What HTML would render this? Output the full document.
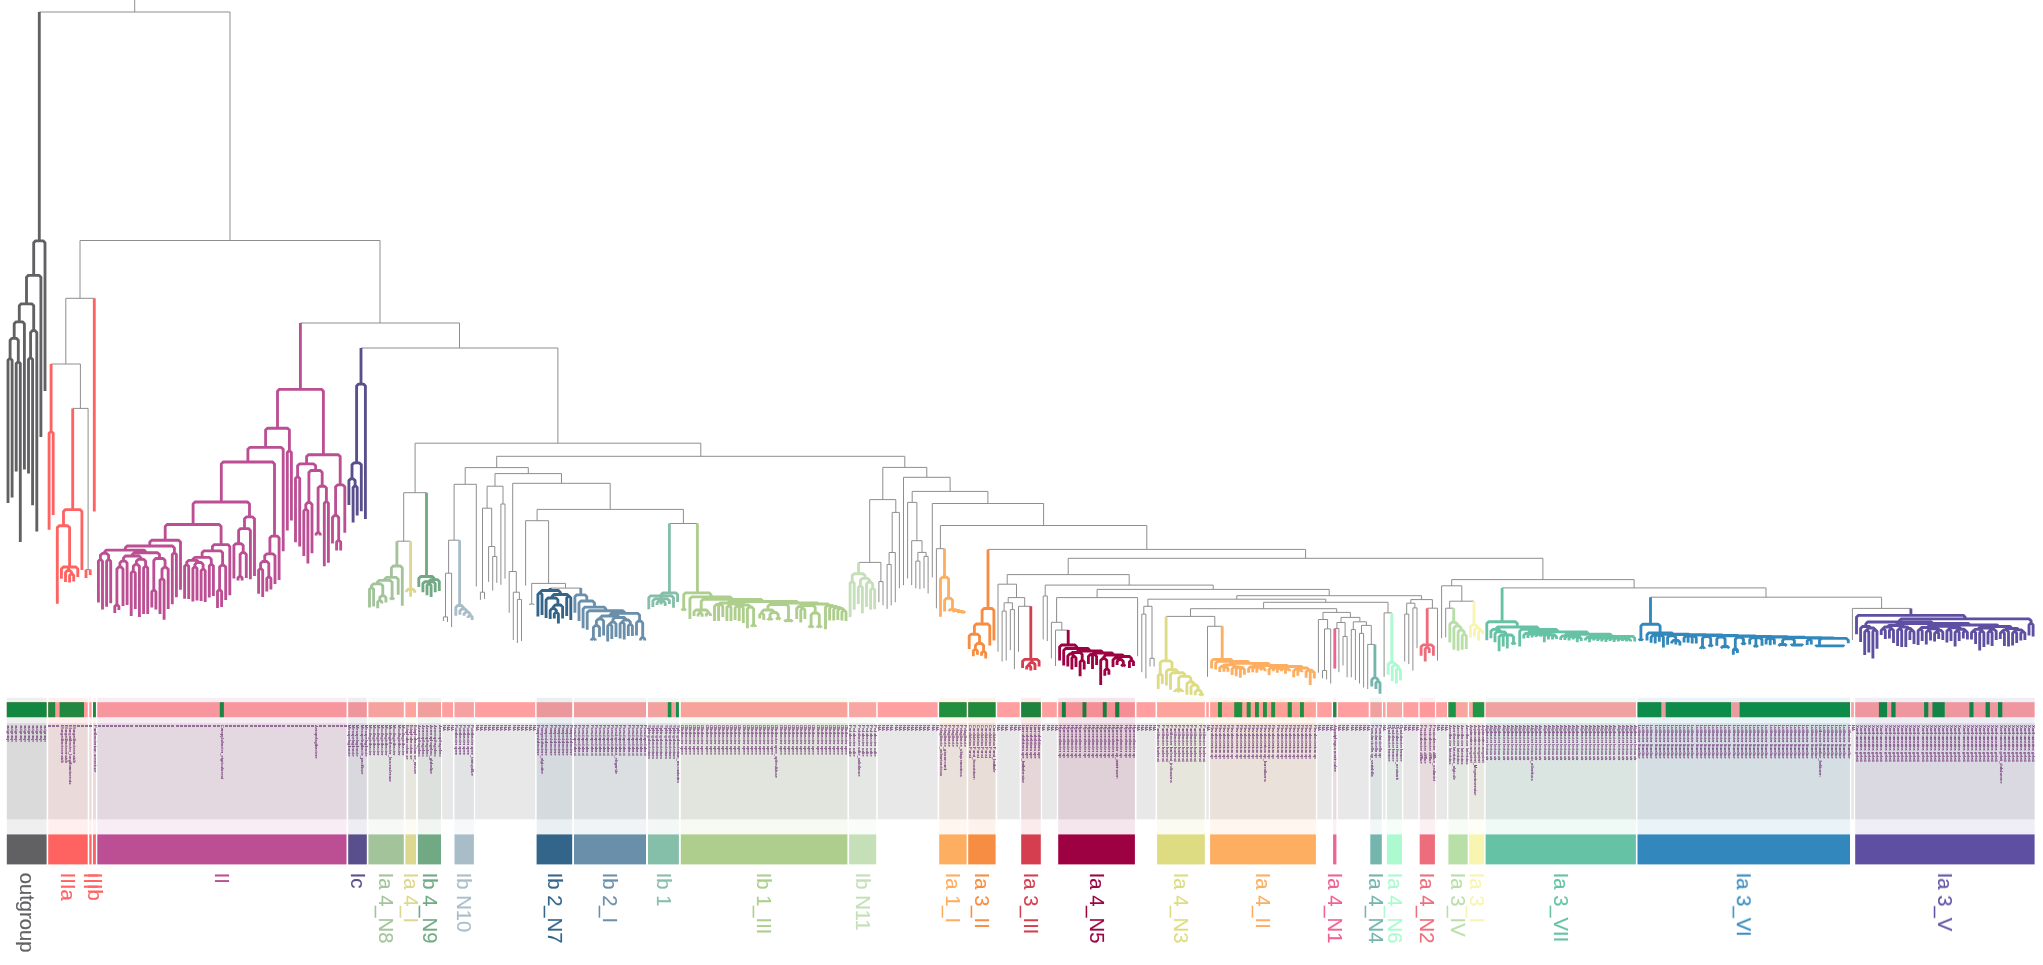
<!DOCTYPE html>
<html><head><meta charset="utf-8"><title>tree</title><style>html,body{margin:0;padding:0;background:#fff}body{width:2043px;height:965px;position:relative;overflow:hidden}</style></head><body>
<svg width="2043" height="965" viewBox="0 0 2043 965" style="position:absolute;left:0;top:0">
<rect x="6.8" y="702.2" width="39.8" height="15" fill="#ff9f9f"/>
<rect x="6.8" y="723.2" width="39.8" height="96.1" fill="#e8e8e8"/>
<rect x="48.2" y="702.2" width="39.5" height="15" fill="#ff9f9f"/>
<rect x="48.2" y="723.2" width="39.5" height="96.1" fill="#e8e8e8"/>
<rect x="89.3" y="702.2" width="2.3" height="15" fill="#ff9f9f"/>
<rect x="89.3" y="723.2" width="2.3" height="96.1" fill="#e8e8e8"/>
<rect x="93" y="702.2" width="2.9" height="15" fill="#ff9f9f"/>
<rect x="93" y="723.2" width="2.9" height="96.1" fill="#e8e8e8"/>
<rect x="97.3" y="702.2" width="249.2" height="15" fill="#ff9f9f"/>
<rect x="97.3" y="723.2" width="249.2" height="96.1" fill="#e8e8e8"/>
<rect x="348.2" y="702.2" width="18.6" height="15" fill="#ff9f9f"/>
<rect x="348.2" y="723.2" width="18.6" height="96.1" fill="#e8e8e8"/>
<rect x="368.4" y="702.2" width="35.4" height="15" fill="#ff9f9f"/>
<rect x="368.4" y="723.2" width="35.4" height="96.1" fill="#e8e8e8"/>
<rect x="405.4" y="702.2" width="10.6" height="15" fill="#ff9f9f"/>
<rect x="405.4" y="723.2" width="10.6" height="96.1" fill="#e8e8e8"/>
<rect x="417.9" y="702.2" width="23.1" height="15" fill="#ff9f9f"/>
<rect x="417.9" y="723.2" width="23.1" height="96.1" fill="#e8e8e8"/>
<rect x="442.2" y="702.2" width="10.8" height="15" fill="#ff9f9f"/>
<rect x="442.2" y="723.2" width="10.8" height="96.1" fill="#e8e8e8"/>
<rect x="454.5" y="702.2" width="19.4" height="15" fill="#ff9f9f"/>
<rect x="454.5" y="723.2" width="19.4" height="96.1" fill="#e8e8e8"/>
<rect x="475.1" y="702.2" width="60.1" height="15" fill="#ff9f9f"/>
<rect x="475.1" y="723.2" width="60.1" height="96.1" fill="#e8e8e8"/>
<rect x="536.6" y="702.2" width="35.6" height="15" fill="#ff9f9f"/>
<rect x="536.6" y="723.2" width="35.6" height="96.1" fill="#e8e8e8"/>
<rect x="574" y="702.2" width="72" height="15" fill="#ff9f9f"/>
<rect x="574" y="723.2" width="72" height="96.1" fill="#e8e8e8"/>
<rect x="648" y="702.2" width="30.9" height="15" fill="#ff9f9f"/>
<rect x="648" y="723.2" width="30.9" height="96.1" fill="#e8e8e8"/>
<rect x="680.8" y="702.2" width="166.6" height="15" fill="#ff9f9f"/>
<rect x="680.8" y="723.2" width="166.6" height="96.1" fill="#e8e8e8"/>
<rect x="849.1" y="702.2" width="27.1" height="15" fill="#ff9f9f"/>
<rect x="849.1" y="723.2" width="27.1" height="96.1" fill="#e8e8e8"/>
<rect x="877.7" y="702.2" width="59.9" height="15" fill="#ff9f9f"/>
<rect x="877.7" y="723.2" width="59.9" height="96.1" fill="#e8e8e8"/>
<rect x="939.2" y="702.2" width="27.4" height="15" fill="#ff9f9f"/>
<rect x="939.2" y="723.2" width="27.4" height="96.1" fill="#e8e8e8"/>
<rect x="968.2" y="702.2" width="27.4" height="15" fill="#ff9f9f"/>
<rect x="968.2" y="723.2" width="27.4" height="96.1" fill="#e8e8e8"/>
<rect x="997.2" y="702.2" width="22.5" height="15" fill="#ff9f9f"/>
<rect x="997.2" y="723.2" width="22.5" height="96.1" fill="#e8e8e8"/>
<rect x="1021.2" y="702.2" width="19.6" height="15" fill="#ff9f9f"/>
<rect x="1021.2" y="723.2" width="19.6" height="96.1" fill="#e8e8e8"/>
<rect x="1042.1" y="702.2" width="14.7" height="15" fill="#ff9f9f"/>
<rect x="1042.1" y="723.2" width="14.7" height="96.1" fill="#e8e8e8"/>
<rect x="1058.2" y="702.2" width="76.7" height="15" fill="#ff9f9f"/>
<rect x="1058.2" y="723.2" width="76.7" height="96.1" fill="#e8e8e8"/>
<rect x="1136.5" y="702.2" width="19" height="15" fill="#ff9f9f"/>
<rect x="1136.5" y="723.2" width="19" height="96.1" fill="#e8e8e8"/>
<rect x="1157.1" y="702.2" width="47.7" height="15" fill="#ff9f9f"/>
<rect x="1157.1" y="723.2" width="47.7" height="96.1" fill="#e8e8e8"/>
<rect x="1206.2" y="702.2" width="2.6" height="15" fill="#ff9f9f"/>
<rect x="1206.2" y="723.2" width="2.6" height="96.1" fill="#e8e8e8"/>
<rect x="1210.1" y="702.2" width="105.8" height="15" fill="#ff9f9f"/>
<rect x="1210.1" y="723.2" width="105.8" height="96.1" fill="#e8e8e8"/>
<rect x="1317.2" y="702.2" width="14.5" height="15" fill="#ff9f9f"/>
<rect x="1317.2" y="723.2" width="14.5" height="96.1" fill="#e8e8e8"/>
<rect x="1333.1" y="702.2" width="3.3" height="15" fill="#ff9f9f"/>
<rect x="1333.1" y="723.2" width="3.3" height="96.1" fill="#e8e8e8"/>
<rect x="1337.8" y="702.2" width="30.9" height="15" fill="#ff9f9f"/>
<rect x="1337.8" y="723.2" width="30.9" height="96.1" fill="#e8e8e8"/>
<rect x="1370.3" y="702.2" width="11.5" height="15" fill="#ff9f9f"/>
<rect x="1370.3" y="723.2" width="11.5" height="96.1" fill="#e8e8e8"/>
<rect x="1383" y="702.2" width="2.5" height="15" fill="#ff9f9f"/>
<rect x="1383" y="723.2" width="2.5" height="96.1" fill="#e8e8e8"/>
<rect x="1386.9" y="702.2" width="15.1" height="15" fill="#ff9f9f"/>
<rect x="1386.9" y="723.2" width="15.1" height="96.1" fill="#e8e8e8"/>
<rect x="1403.3" y="702.2" width="15" height="15" fill="#ff9f9f"/>
<rect x="1403.3" y="723.2" width="15" height="96.1" fill="#e8e8e8"/>
<rect x="1419.7" y="702.2" width="15.2" height="15" fill="#ff9f9f"/>
<rect x="1419.7" y="723.2" width="15.2" height="96.1" fill="#e8e8e8"/>
<rect x="1436.2" y="702.2" width="10.8" height="15" fill="#ff9f9f"/>
<rect x="1436.2" y="723.2" width="10.8" height="96.1" fill="#e8e8e8"/>
<rect x="1448.4" y="702.2" width="19.3" height="15" fill="#ff9f9f"/>
<rect x="1448.4" y="723.2" width="19.3" height="96.1" fill="#e8e8e8"/>
<rect x="1469.1" y="702.2" width="15.1" height="15" fill="#ff9f9f"/>
<rect x="1469.1" y="723.2" width="15.1" height="96.1" fill="#e8e8e8"/>
<rect x="1485.6" y="702.2" width="150.3" height="15" fill="#ff9f9f"/>
<rect x="1485.6" y="723.2" width="150.3" height="96.1" fill="#e8e8e8"/>
<rect x="1637.5" y="702.2" width="212.5" height="15" fill="#ff9f9f"/>
<rect x="1637.5" y="723.2" width="212.5" height="96.1" fill="#e8e8e8"/>
<rect x="1851.1" y="702.2" width="2.8" height="15" fill="#ff9f9f"/>
<rect x="1851.1" y="723.2" width="2.8" height="96.1" fill="#e8e8e8"/>
<rect x="1855.2" y="702.2" width="179.4" height="15" fill="#ff9f9f"/>
<rect x="1855.2" y="723.2" width="179.4" height="96.1" fill="#e8e8e8"/>
<rect x="6.8" y="702.2" width="39.8" height="15" fill="#0a8c3c"/>
<rect x="48.2" y="702.2" width="7" height="15" fill="#0a8c3c"/>
<rect x="59.6" y="702.2" width="24.4" height="15" fill="#0a8c3c"/>
<rect x="93" y="702.2" width="2.9" height="15" fill="#0a8c3c"/>
<rect x="219.8" y="702.2" width="4.1" height="15" fill="#0a8c3c"/>
<rect x="667.8" y="702.2" width="3.6" height="15" fill="#0a8c3c"/>
<rect x="676" y="702.2" width="2.9" height="15" fill="#0a8c3c"/>
<rect x="939.2" y="702.2" width="27.4" height="15" fill="#0a8c3c"/>
<rect x="968.2" y="702.2" width="27.4" height="15" fill="#0a8c3c"/>
<rect x="1021.2" y="702.2" width="19.6" height="15" fill="#0a8c3c"/>
<rect x="1061.9" y="702.2" width="3.9" height="15" fill="#0a8c3c"/>
<rect x="1082.5" y="702.2" width="3.9" height="15" fill="#0a8c3c"/>
<rect x="1102.8" y="702.2" width="3.9" height="15" fill="#0a8c3c"/>
<rect x="1115.2" y="702.2" width="4.1" height="15" fill="#0a8c3c"/>
<rect x="1218" y="702.2" width="3.9" height="15" fill="#0a8c3c"/>
<rect x="1234.2" y="702.2" width="8" height="15" fill="#0a8c3c"/>
<rect x="1246.7" y="702.2" width="4" height="15" fill="#0a8c3c"/>
<rect x="1255" y="702.2" width="3.9" height="15" fill="#0a8c3c"/>
<rect x="1263" y="702.2" width="3.9" height="15" fill="#0a8c3c"/>
<rect x="1271.2" y="702.2" width="3.9" height="15" fill="#0a8c3c"/>
<rect x="1287.7" y="702.2" width="4.1" height="15" fill="#0a8c3c"/>
<rect x="1300" y="702.2" width="3.9" height="15" fill="#0a8c3c"/>
<rect x="1333.1" y="702.2" width="3.3" height="15" fill="#0a8c3c"/>
<rect x="1448.4" y="702.2" width="7.4" height="15" fill="#0a8c3c"/>
<rect x="1472.8" y="702.2" width="11.4" height="15" fill="#0a8c3c"/>
<rect x="1637.5" y="702.2" width="23.8" height="15" fill="#0a8c3c"/>
<rect x="1665.7" y="702.2" width="65.3" height="15" fill="#0a8c3c"/>
<rect x="1739.6" y="702.2" width="110.4" height="15" fill="#0a8c3c"/>
<rect x="1878.9" y="702.2" width="8.2" height="15" fill="#0a8c3c"/>
<rect x="1891.3" y="702.2" width="4.3" height="15" fill="#0a8c3c"/>
<rect x="1924.1" y="702.2" width="4.2" height="15" fill="#0a8c3c"/>
<rect x="1932.4" y="702.2" width="12.3" height="15" fill="#0a8c3c"/>
<rect x="1969.4" y="702.2" width="4.1" height="15" fill="#0a8c3c"/>
<rect x="1985.6" y="702.2" width="4.3" height="15" fill="#0a8c3c"/>
<rect x="1998" y="702.2" width="4.3" height="15" fill="#0a8c3c"/>
<rect x="6.8" y="697.8" width="39.8" height="136.6" fill="#616063" fill-opacity="0.1"/>
<rect x="6.8" y="834.4" width="39.8" height="30" fill="#616063"/>
<rect x="48.2" y="697.8" width="39.5" height="136.6" fill="#ff6361" fill-opacity="0.1"/>
<rect x="48.2" y="834.4" width="39.5" height="30" fill="#ff6361"/>
<rect x="89.3" y="697.8" width="2.3" height="136.6" fill="#ff6361" fill-opacity="0.1"/>
<rect x="89.3" y="834.4" width="2.3" height="30" fill="#ff6361"/>
<rect x="93" y="697.8" width="2.9" height="136.6" fill="#ff6361" fill-opacity="0.1"/>
<rect x="93" y="834.4" width="2.9" height="30" fill="#ff6361"/>
<rect x="97.3" y="697.8" width="249.2" height="136.6" fill="#bc4f94" fill-opacity="0.1"/>
<rect x="97.3" y="834.4" width="249.2" height="30" fill="#bc4f94"/>
<rect x="348.2" y="697.8" width="18.6" height="136.6" fill="#584f8c" fill-opacity="0.1"/>
<rect x="348.2" y="834.4" width="18.6" height="30" fill="#584f8c"/>
<rect x="368.4" y="697.8" width="35.4" height="136.6" fill="#a3c49b" fill-opacity="0.1"/>
<rect x="368.4" y="834.4" width="35.4" height="30" fill="#a3c49b"/>
<rect x="405.4" y="697.8" width="10.6" height="136.6" fill="#ddd890" fill-opacity="0.1"/>
<rect x="405.4" y="834.4" width="10.6" height="30" fill="#ddd890"/>
<rect x="417.9" y="697.8" width="23.1" height="136.6" fill="#71a985" fill-opacity="0.1"/>
<rect x="417.9" y="834.4" width="23.1" height="30" fill="#71a985"/>
<rect x="454.5" y="697.8" width="19.4" height="136.6" fill="#a9bdc9" fill-opacity="0.1"/>
<rect x="454.5" y="834.4" width="19.4" height="30" fill="#a9bdc9"/>
<rect x="536.6" y="697.8" width="35.6" height="136.6" fill="#33658a" fill-opacity="0.1"/>
<rect x="536.6" y="834.4" width="35.6" height="30" fill="#33658a"/>
<rect x="574" y="697.8" width="72" height="136.6" fill="#6a8fab" fill-opacity="0.1"/>
<rect x="574" y="834.4" width="72" height="30" fill="#6a8fab"/>
<rect x="648" y="697.8" width="30.9" height="136.6" fill="#85bfa9" fill-opacity="0.1"/>
<rect x="648" y="834.4" width="30.9" height="30" fill="#85bfa9"/>
<rect x="680.8" y="697.8" width="166.6" height="136.6" fill="#adce8c" fill-opacity="0.1"/>
<rect x="680.8" y="834.4" width="166.6" height="30" fill="#adce8c"/>
<rect x="849.1" y="697.8" width="27.1" height="136.6" fill="#c5e0b8" fill-opacity="0.1"/>
<rect x="849.1" y="834.4" width="27.1" height="30" fill="#c5e0b8"/>
<rect x="939.2" y="697.8" width="27.4" height="136.6" fill="#fdae61" fill-opacity="0.1"/>
<rect x="939.2" y="834.4" width="27.4" height="30" fill="#fdae61"/>
<rect x="968.2" y="697.8" width="27.4" height="136.6" fill="#f68d42" fill-opacity="0.1"/>
<rect x="968.2" y="834.4" width="27.4" height="30" fill="#f68d42"/>
<rect x="1021.2" y="697.8" width="19.6" height="136.6" fill="#d53e4f" fill-opacity="0.1"/>
<rect x="1021.2" y="834.4" width="19.6" height="30" fill="#d53e4f"/>
<rect x="1058.2" y="697.8" width="76.7" height="136.6" fill="#9e0142" fill-opacity="0.1"/>
<rect x="1058.2" y="834.4" width="76.7" height="30" fill="#9e0142"/>
<rect x="1157.1" y="697.8" width="47.7" height="136.6" fill="#dedc82" fill-opacity="0.1"/>
<rect x="1157.1" y="834.4" width="47.7" height="30" fill="#dedc82"/>
<rect x="1210.1" y="697.8" width="105.8" height="136.6" fill="#fdae61" fill-opacity="0.1"/>
<rect x="1210.1" y="834.4" width="105.8" height="30" fill="#fdae61"/>
<rect x="1333.1" y="697.8" width="3.3" height="136.6" fill="#f0628f" fill-opacity="0.1"/>
<rect x="1333.1" y="834.4" width="3.3" height="30" fill="#f0628f"/>
<rect x="1370.3" y="697.8" width="11.5" height="136.6" fill="#74b5ae" fill-opacity="0.1"/>
<rect x="1370.3" y="834.4" width="11.5" height="30" fill="#74b5ae"/>
<rect x="1386.9" y="697.8" width="15.1" height="136.6" fill="#abfad0" fill-opacity="0.1"/>
<rect x="1386.9" y="834.4" width="15.1" height="30" fill="#abfad0"/>
<rect x="1419.7" y="697.8" width="15.2" height="136.6" fill="#ee6d7d" fill-opacity="0.1"/>
<rect x="1419.7" y="834.4" width="15.2" height="30" fill="#ee6d7d"/>
<rect x="1448.4" y="697.8" width="19.3" height="136.6" fill="#b8dfa8" fill-opacity="0.1"/>
<rect x="1448.4" y="834.4" width="19.3" height="30" fill="#b8dfa8"/>
<rect x="1469.1" y="697.8" width="15.1" height="136.6" fill="#f7f5b0" fill-opacity="0.1"/>
<rect x="1469.1" y="834.4" width="15.1" height="30" fill="#f7f5b0"/>
<rect x="1485.6" y="697.8" width="150.3" height="136.6" fill="#66c2a5" fill-opacity="0.1"/>
<rect x="1485.6" y="834.4" width="150.3" height="30" fill="#66c2a5"/>
<rect x="1637.5" y="697.8" width="212.5" height="136.6" fill="#3288bd" fill-opacity="0.1"/>
<rect x="1637.5" y="834.4" width="212.5" height="30" fill="#3288bd"/>
<rect x="1855.2" y="697.8" width="179.4" height="136.6" fill="#5e4fa2" fill-opacity="0.1"/>
<rect x="1855.2" y="834.4" width="179.4" height="30" fill="#5e4fa2"/>
<g fill="none" stroke="#8e8e8e" stroke-width="1.0">
<path d="M86 569.6H90.2M72.7 408.4H88.1M88.1 408.4V569.6M51.1 364H80.4M80.4 364V408.4M65.8 298.3H94.3M65.8 298.3V364M396.9 541.2H410.6M403.7 492.7H426.5M403.7 492.7V541.2M443.4 616.9H447.5M443.4 616.9V621M447.5 616.9V622M445.5 573.2H451.6M445.5 573.2V616.9M451.6 573.2V627.1M448.6 540.2H459.6M448.6 540.2V573.2M454.1 484.3H476.3M454.1 484.3V540.2M476.3 484.3V586.5M480.4 592.2H484.5M480.4 592.2V599.9M484.5 592.2V598.9M492.7 556.5H496.8M492.7 556.5V590.6M496.8 556.5V582.9M488.6 546.5H494.8M488.6 546.5V581.9M494.8 546.5V556.5M482.5 508.2H491.7M482.5 508.2V592.2M491.7 508.2V546.5M500.9 504H505M500.9 504V584.8M505 504V578.6M487.1 486.2H503M487.1 486.2V508.2M503 486.2V504M517.4 599.4H521.5M517.4 599.4V643M521.5 599.4V641M513.3 592.2H519.4M513.3 592.2V640M519.4 592.2V599.4M509.2 571.5H516.3M509.2 571.5V612.7M516.3 571.5V592.2M529.7 604H533.8M529.7 604V605M533.8 604V605M550.2 588.1H580.8M531.7 583.4H565.5M531.7 583.4V604M565.5 583.4V588.1M525.6 520.7H548.6M525.6 520.7V585.6M548.6 520.7V583.4M669.4 523.5H697.4M537.1 509.4H683.4M537.1 509.4V520.7M683.4 509.4V523.5M512.7 483.3H610.2M512.7 483.3V571.5M610.2 483.3V509.4M495 473.6H561.5M495 473.6V486.2M561.5 473.6V483.3M465.2 467.6H528.3M465.2 467.6V484.3M528.3 467.6V473.6M878.9 581.6H883M878.9 581.6V602.2M883 581.6V605.3M858.6 562.4H880.9M880.9 562.4V581.6M887.1 564.5H891.2M887.1 564.5V608.9M891.2 564.5V605.3M889.1 552.5H895.3M889.1 552.5V564.5M895.3 552.5V602.2M892.2 512.4H899.4M892.2 512.4V552.5M899.4 512.4V588.3M869.7 499.6H895.8M869.7 499.6V562.4M895.8 499.6V512.4M915.8 561.1H919.9M915.8 561.1V588.3M919.9 561.1V589.1M924 556.4H928.1M924 556.4V588.3M928.1 556.4V593.4M917.9 552.4H926.1M917.9 552.4V561.1M926.1 552.4V556.4M911.7 540.7H922M911.7 540.7V585.2M922 540.7V552.4M907.6 502.4H916.9M907.6 502.4V578.5M916.9 502.4V540.7M936.4 548.7H944.5M936.4 548.7V608.4M1002.1 611.1H1006.2M1002.1 611.1V661.5M1006.2 611.1V660.5M1010.3 609.6H1014.4M1010.3 609.6V650.2M1014.4 609.6V669M1004.1 602.8H1012.4M1004.1 602.8V611.1M1012.4 602.8V609.6M1018.5 606.3H1030.8M1018.5 606.3V651.7M1008.2 597.6H1024.7M1008.2 597.6V602.8M1024.7 597.6V606.3M998 584.2H1016.5M998 584.2V651.7M1016.5 584.2V597.6M1043.2 596H1047.3M1043.2 596V639.4M1047.3 596V641M1055.5 630.1H1068.2M1055.5 630.1V666M1051.4 622.3H1061.8M1051.4 622.3V658.4M1061.8 622.3V630.1M1056.6 597.6H1137.6M1056.6 597.6V622.3M1137.6 597.6V656.3M1141.8 614.1H1145.9M1141.8 614.1V672.2M1145.9 614.1V678.4M1150 658.3H1154.1M1150 658.3V666.5M1154.1 658.3V666.5M1143.8 606.3H1152M1143.8 606.3V614.1M1152 606.3V658.3M1207.5 626.3H1222.2M1207.5 626.3V676.8M1166.1 616.4H1214.8M1214.8 616.4V626.3M1322.5 670.5H1326.6M1322.5 670.5V678.4M1326.6 670.5V679.4M1324.5 628.9H1330.7M1324.5 628.9V670.5M1330.7 628.9V683.5M1318.4 619.5H1327.6M1318.4 619.5V672.7M1327.6 619.5V628.9M1334.8 628.5H1338.9M1338.9 628.5V672.2M1343 636.5H1347.1M1343 636.5V665.5M1347.1 636.5V677.3M1336.9 622.5H1345.1M1336.9 622.5V628.5M1345.1 622.5V636.5M1351.3 629.5H1355.4M1351.3 629.5V677.3M1355.4 629.5V679.9M1359.5 633.4H1363.6M1359.5 633.4V683.5M1363.6 633.4V687.6M1367.7 644.4H1374.9M1367.7 644.4V689M1361.5 625.4H1371.3M1361.5 625.4V633.4M1371.3 625.4V644.4M1353.3 621.8H1366.4M1353.3 621.8V629.5M1366.4 621.8V625.4M1341 617.4H1359.9M1341 617.4V622.5M1359.9 617.4V621.8M1323 612.4H1350.4M1323 612.4V619.5M1350.4 612.4V617.4M1190.5 608.7H1336.7M1190.5 608.7V616.4M1336.7 608.7V612.4M1384.1 612.9H1391.8M1384.1 612.9V676.8M1263.6 602.3H1388M1263.6 602.3V608.7M1388 602.3V612.9M1147.9 599.2H1325.8M1147.9 599.2V606.3M1325.8 599.2V602.3M1404.7 614.1H1408.8M1404.7 614.1V661.5M1408.8 614.1V664M1412.9 607.9H1417M1412.9 607.9V670.6M1417 607.9V648.2M1406.7 603.2H1414.9M1406.7 603.2V614.1M1414.9 603.2V607.9M1427.2 608.2H1437.5M1437.5 608.2V660.7M1410.8 599.6H1432.4M1410.8 599.6V603.2M1432.4 599.6V608.2M1236.8 595.7H1421.6M1236.8 595.7V599.2M1421.6 595.7V599.6M1097.1 589.4H1329.2M1097.1 589.4V597.6M1329.2 589.4V595.7M1045.2 585.1H1213.2M1045.2 585.1V596M1213.2 585.1V589.4M1007.2 574.6H1129.2M1007.2 574.6V584.2M1129.2 574.6V585.1M1445.7 608.2H1453.7M1445.7 608.2V637.4M1449.7 601.2H1474M1449.7 601.2V608.2M1441.6 585.8H1461.8M1441.6 585.8V638.2M1461.8 585.8V601.2M1852.4 608.4H1910.9M1852.4 608.4V640M1650.5 597.2H1881.6M1881.6 597.2V608.4M1502.1 587.9H1766M1766 587.9V597.2M1451.7 579.6H1634.1M1451.7 579.6V585.8M1634.1 579.6V587.9M1068.2 558.3H1542.9M1068.2 558.3V574.6M1542.9 558.3V579.6M988 549.4H1305.6M1305.6 549.4V558.3M940.4 525.5H1146.8M940.4 525.5V548.7M1146.8 525.5V549.4M932.3 503.5H1043.6M932.3 503.5V577.5M1043.6 503.5V525.5M912.2 491.4H987.9M912.2 491.4V502.4M987.9 491.4V503.5M903.5 477.3H950.1M903.5 477.3V585.2M950.1 477.3V491.4M882.8 467.4H926.8M882.8 467.4V499.6M926.8 467.4V477.3M496.7 456.3H904.8M496.7 456.3V467.6M904.8 456.3V467.4M415.1 443.2H700.8M415.1 443.2V492.7M700.8 443.2V456.3M361 348H557.9M557.9 348V443.2M300.4 323H459.5M459.5 323V348M80 240.5H380M80 240.5V298.3M380 240.5V323M39.3 12H230M230 12V240.5M134.7 12V0"/>
</g>
<g fill="none" stroke-width="2.85" stroke-linejoin="round" stroke-linecap="butt">
<path stroke="#616063" d="M8 503V360.2L9.9 358.3H10.2L12.1 360.2V497.6M16.2 471.6V363.6L18.1 361.7H18.4L20.3 363.6V542M10.1 358.3V340.2L12 338.3H16.4L18.3 340.2V361.7M14.2 338.3V323.7L16.1 321.8H22.5L24.4 323.7V469.4M28.5 473.6V359.4L30.4 357.5H30.7L32.6 359.4V505.3M30.6 357.5V332.4L32.5 330.5H34.9L36.8 332.4V531.6M19.3 321.8V305.7L21.2 303.8H31.8L33.7 305.7V330.5M26.5 303.8V277.2L28.4 275.3H39L40.9 277.2V437M33.7 275.3V242.7L35.6 240.8H43.1L45 242.7V391M39.3 12V240.8"/>
<path stroke="#ff6361" d="M49.1 529.8V433.3L51 431.4H51.3L53.2 433.3V515M69.6 582.5V575.4L71.5 573.5H71.8L73.7 575.4V581.5M65.5 582V572.4L67.4 570.5H69.8L71.7 572.4V573.5M61.4 578.7V568.9L63.3 567H75.9L77.8 568.9V577M68.6 567V570.5M57.3 603.8V527.6L59.2 525.7H67.7L69.6 527.6V567M63.5 525.7V511.5L65.4 509.6H80L81.9 511.5V570M86 569.6V578M90.2 569.6V575M72.7 408.4V509.6M51.1 364V431.4M94.3 298.3V511.4"/>
<path stroke="#bc4f94" d="M98.4 602.6V561.2L100.3 559.3H100.6L102.5 561.2V609.4M106.6 606.7V561.2L108.5 559.3H108.8L110.7 561.2V603.3M100.4 559.3V555.3L102.3 553.4H106.7L108.6 555.3V559.3M114.8 613V606.5L116.7 604.6H117L118.9 606.5V610M116.9 604.6V568.9L118.8 567H121.1L123 568.9V606M119.9 567V563L121.8 561.1H125.2L127.1 563V605M131.2 616V572.9L133.1 571H133.4L135.3 572.9V609M133.3 571V566.3L135.2 564.4H137.5L139.4 566.3V617M143.6 614V567.9L145.5 566H145.8L147.7 567.9V614M136.4 564.4V561.2L138.3 559.3H143.7L145.6 561.2V566M123.5 561.1V557.9L125.4 556H139.1L141 557.9V559.3M151.8 607.4V591.7L153.7 589.8H154L155.9 591.7V609.4M160 614V580.3L161.9 578.4H162.2L164.1 580.3V619.7M162 578.4V569.3L163.9 567.4H166.3L168.2 569.3V609M153.8 589.8V560.4L155.7 558.5H163.2L165.1 560.4V567.4M132.3 556V554.6L134.2 552.7H157.6L159.5 554.6V558.5M104.5 553.4V552L106.4 550.1H144L145.9 552V552.7M172.3 604.2V554.6L174.2 552.7H174.5L176.4 554.6V597.2M125.2 550.1V547.9L127.1 546H172.5L174.4 547.9V552.7M149.8 546V542.1L151.7 540.2H178.6L180.5 542.1V589.8M184.6 598.7V566.3L186.5 564.4H186.8L188.7 566.3V599M192.9 601.6V568.5L194.8 566.6H195.1L197 568.5V600.5M201.1 600.9V570.7L203 568.8H203.3L205.2 570.7V602M194.9 566.6V564.4L196.8 562.5H201.2L203.1 564.4V568.8M186.7 564.4V562.3L188.6 560.4H197.1L199 562.3V562.5M209.3 597.5V565.9L211.2 564H211.5L213.4 565.9V596M192.9 560.4V559.3L194.8 557.4H209.4L211.3 559.3V564M217.5 608V591.4L219.4 589.5H219.7L221.6 591.4V607M219.6 589.5V567.1L221.5 565.2H223.8L225.7 567.1V600.1M202.1 557.4V552.7L204 550.8H220.7L222.6 552.7V565.2M212.4 550.8V546.5L214.3 544.6H227.9L229.8 546.5V595.3M165.2 540.2V526.4L167.1 524.5H219.2L221.1 526.4V544.6M238 580.6V577.8L239.9 575.9H240.2L242.1 577.8V580.6M240.1 575.9V554.5L242 552.6H244.4L246.3 554.5V578M233.9 578.6V545.6L235.8 543.7H241.3L243.2 545.6V552.6M238.6 543.7V530.5L240.5 528.6H248.5L250.4 530.5V579.3M244.5 528.6V518.8L246.4 516.9H252.6L254.5 518.8V575.9M193.1 524.5V503.9L195 502H247.6L249.5 503.9V516.9M258.6 593.7V570.2L260.5 568.3H260.8L262.7 570.2V597M266.8 591.6V578.4L268.7 576.5H269L270.9 578.4V589.6M260.6 568.3V563.4L262.5 561.5H266.9L268.8 563.4V576.5M264.7 561.5V555.8L266.6 553.9H273.1L275 555.8V584M269.9 553.9V538L271.8 536.1H277.2L279.1 538V580M221.3 502V463.9L223.2 462H272.6L274.5 463.9V536.1M247.9 462V449.3L249.8 447.4H281.3L283.2 449.3V551.2M287.3 530.6V452.5L289.2 450.6H289.5L291.4 452.5V520.4M265.6 447.4V430.1L267.5 428.2H287.5L289.4 430.1V450.6M295.5 542.3V478.5L297.4 476.6H297.8L299.7 478.5V546.4M303.8 556V510.9L305.7 509H306L307.9 510.9V563.5M305.8 509V504.4L307.7 502.5H310.1L312 504.4V553.2M316.1 535.4V533.9L318 532H318.3L320.2 533.9V535.4M324.3 566.2V503.2L326.2 501.3H326.5L328.4 503.2V562.8M318.1 532V488.1L320 486.2H324.5L326.4 488.1V501.3M308.9 502.5V472.4L310.8 470.5H320.3L322.2 472.4V486.2M297.6 476.6V465.8L299.5 463.9H313.7L315.6 465.8V470.5M336.6 550.5V542.1L338.5 540.2H338.8L340.7 542.1V550.5M332.5 543.6V517.4L334.4 515.5H336.8L338.7 517.4V540.2M335.6 515.5V486.8L337.5 484.9H342.9L344.8 486.8V532.7M306.6 463.9V456.6L308.5 454.7H338.3L340.2 456.6V484.9M277.5 428.2V391.2L279.4 389.3H321.5L323.4 391.2V454.7M300.4 323V389.3"/>
<path stroke="#584f8c" d="M353.1 522.4V487.4L355 485.5H355.3L357.2 487.4V515.4M348.9 505.1V480.6L350.8 478.7H353.2L355.1 480.6V485.5M352 478.7V464.8L353.9 462.9H359.4L361.3 464.8V511.3M356.6 462.9V386L358.5 384.1H363.5L365.4 386V519M361 348V384.1"/>
<path stroke="#a3c49b" d="M369.5 607.4V589.3L371.4 587.4H371.7L373.6 589.3V606.5M377.7 608.3V601.9L379.6 600H379.9L381.8 601.9V603.5M379.8 600V597.6L381.7 595.7H384L385.9 597.6V602.6M371.5 587.4V585.8L373.4 583.9H380.9L382.8 585.8V595.7M390 599.6V599.6L391.3 598.3H392.8L394.1 599.6V599.6M377.2 583.9V582.3L379.1 580.4H390.2L392.1 582.3V598.3M384.6 580.4V579.3L386.5 577.4H396.3L398.2 579.3V594.8M391.4 577.4V567.9L393.3 566H400.4L402.3 567.9V605.7M396.9 541.2V566"/>
<path stroke="#ddd890" d="M406.5 592.2V591L408.4 589.1H412.8L414.7 591V592.7M410.6 589.1V596.8M410.6 541.2V589.1"/>
<path stroke="#71a985" d="M427 595.2V585.4L428.9 583.5H429.2L431.1 585.4V597M422.9 592.2V583.6L424.8 581.7H433.3L435.2 583.6V592.2M429 581.7V583.5M429 581.7V581.5L430.9 579.6H437.4L439.3 581.5V590.9M418.8 587V578.4L420.7 576.5H432.3L434.2 578.4V579.6M426.5 492.7V576.5"/>
<path stroke="#a9bdc9" d="M468.1 617.9V616.9L470 615H470.3L472.2 616.9V620M464 615.8V613.9L465.9 612H468.2L470.1 613.9V615M459.9 614.8V610.9L461.8 609H465.1L467 610.9V612M455.8 615.8V607.4L457.7 605.5H461.6L463.5 607.4V609M459.6 540.2V605.5"/>
<path stroke="#33658a" d="M537.9 616.4V594.4L539.8 592.5H540.1L542 594.4V614.9M554.3 618.5V613.9L556.2 612H556.5L558.4 613.9V623.6M550.2 619V610.4L552.1 608.5H554.5L556.4 610.4V612M553.3 608.5V606.9L555.2 605H560.7L562.6 606.9V618.5M546.1 618V599.9L548 598H556L557.9 599.9V605M566.7 615.9V597.9L568.6 596H568.9L570.8 597.9V620M552 598V596.4L553.9 594.5H567.2L568.7 596V596M540 592.5V592.4L541.9 590.5H558.5L560.4 592.4V594.5M550.2 588.1V590.5"/>
<path stroke="#6a8fab" d="M591.3 640.5V639.9L593.2 638H593.5L595.4 639.9V640.5M593.4 638V627.5L595.3 625.6H597.6L599.5 627.5V637M596.4 625.6V620.9L598.3 619H601.7L603.6 620.9V635.4M607.7 641.6V625.9L609.6 624H609.9L611.8 625.9V639M609.8 624V623.9L611.7 622H614.1L616 623.9V637M620.1 638.5V623.9L622 622H622.3L624.2 623.9V639.5M628.3 636V625.9L630.2 624H630.5L632.4 625.9V636M622.1 622V621.9L624 620H628.4L630.3 621.9V624M612.9 622V619.4L614.8 617.5H624.3L626.2 619.4V620M600 619V617.9L601.9 616H618L619.5 617.5V617.5M640.6 640.5V638.9L642.5 637H642.8L644.7 638.9V640.5M636.5 635.4V622.9L638.4 621H640.8L642.7 622.9V637M609.8 616V615.2L611.7 613.3H637.7L639.6 615.2V621M587.2 629.8V612.6L589.1 610.7H622.8L624.7 612.6V613.3M583.1 628.2V609L585 607.1H604L605.9 609V610.7M579 621V602.9L580.9 601H592.6L594.5 602.9V607.1M574.9 612.8V596.7L576.8 594.8H584.9L586.8 596.7V601M580.8 588.1V594.8"/>
<path stroke="#85bfa9" d="M657 605V602.9L658.9 601H663.3L665.2 602.9V606M661.1 601V604.6M652.9 607.1V600.8L654.8 598.9H667.5L669.4 600.8V604M661.1 598.9V601M648.8 609.2V597.7L650.7 595.8H671.6L673.5 597.7V607.7M661.1 595.8V598.9M661.1 595.8V594.7L663 592.8H675.7L677.6 594.7V602M669.4 523.5V592.8"/>
<path stroke="#adce8c" d="M681.7 610.5V610.5L683.2 609H684.3L685.8 610.5V610.5M698.1 616.4V614.4L700 612.5H700.3L702.2 614.4V616.8M706.3 616.4V614.4L708.2 612.5H708.5L710.4 614.4V616M694 616V611.9L695.9 610H706.5L708.4 611.9V612.5M700.2 610V612.5M714.5 621V606.4L716.4 604.5H720.9L722.8 606.4V617M718.6 604.5V621M726.9 621V607.4L728.8 605.5H729.1L731 607.4V621M735.1 620V607.9L737 606H741.4L743.3 607.9V623M739.2 606V621M751.5 626.7V626.4L753.4 624.5H753.7L755.6 626.4V626.7M747.4 628.2V608.9L749.3 607H751.7L753.6 608.9V624.5M739.2 606V606L740.2 605H748.6L750.5 606.9V607M728.9 605.5V605.5L730.4 604H743.8L744.8 605V605M718.6 604.5V604.5L720.1 603H735.9L736.9 604V604M759.7 618.5V614.9L761.6 613H761.9L763.8 614.9V620M767.9 620V619.9L769.8 618H770.2L772.1 619.9V620M776.2 619.5V619.5L777.7 618H778.8L780.3 619.5V619.5M770 618V614.4L771.9 612.5H776.3L778.2 614.4V618M761.8 613V611.9L763.7 610H772.2L774.1 611.9V612.5M784.4 621.8V621.8L785.7 620.5H791.3L792.6 621.8V621.8M788.5 620.5V621.8M767.9 610V606.4L769.8 604.5H786.6L788.5 606.4V620.5M800.8 622.5V609.9L802.7 608H803L804.9 609.9V619M796.7 619V608.4L798.6 606.5H801.4L802.9 608V608M809 627.5V627.4L810.9 625.5H811.2L813.1 627.4V627.5M817.2 627.5V627.4L819.1 625.5H819.4L821.3 627.4V627.5M811.1 625.5V614.9L813 613H817.4L819.3 614.9V625.5M799.8 606.5V606.5L800.8 605.5H813.3L815.2 607.4V613M841.9 620.5V611.9L843.8 610H844.1L846 611.9V621M837.8 620V610.4L839.7 608.5H842.4L843.9 610V610M833.7 620.5V609.4L835.6 607.5H839.9L840.9 608.5V608.5M829.6 620.5V608.4L831.5 606.5H836.3L837.3 607.5V607.5M825.5 629.2V607.4L827.4 605.5H832.4L833.4 606.5V606.5M807.5 605.5V605.5L809 604H827.9L829.4 605.5V605.5M778.2 604.5V604.5L779.7 603H817.5L818.5 604V604M727.8 603V603L729.3 601.5H796.8L798.3 603V603M701.2 610V601.3L703.1 599.4H761.1L763 601.3V601.5M689.9 619V598.8L691.8 596.9H730.2L732.1 598.8V599.4M683.7 609V594.7L685.6 592.8H709.1L711 594.7V596.9M697.4 523.5V592.8"/>
<path stroke="#c5e0b8" d="M850.1 617V583.3L852 581.4H852.3L854.2 583.3V609.7M858.3 604V587.5L860.2 585.6H860.5L862.4 587.5V613.3M870.6 609.7V589.9L872.5 588H872.8L874.7 589.9V609.2M866.5 607V583.9L868.4 582H870.8L872.7 583.9V588M860.4 585.6V580.3L862.3 578.4H867.7L869.6 580.3V582M852.2 581.4V575.6L854.1 573.7H863.1L865 575.6V578.4M858.6 562.4V573.7"/>
<path stroke="#fdae61" d="M961 613V613L962 612H964.1L965.1 613V613M956.9 612.5V612.5L957.9 611.5H962.6L963.1 612V612M952.8 612V612L954.3 610.5H959L960 611.5V611.5M948.7 611V611L950.1 609.6H955.5L956.4 610.5V610.5M944.6 611.6V600.2L946.5 598.3H950.6L952.5 600.2V609.6M940.5 616.8V579.1L942.4 577.2H946.7L948.6 579.1V598.3M944.5 548.7V577.2M1223.9 671.7V668.4L1225.8 666.5H1226.1L1228 668.4V671.7M1219.8 672V668.1L1221.7 666.2H1225.7L1226 666.5V666.5M1240.3 677.8V669.5L1242.2 667.6H1242.5L1244.4 669.5V674.8M1236.2 676.3V669.2L1238.1 667.3H1242.1L1242.4 667.6V667.6M1232.1 675V668.9L1234 667H1239L1239.3 667.3V667.3M1222.9 666.2V666.2L1224.3 664.8H1233.8L1235.7 666.7V667M1260.9 670.6V669.4L1262.8 667.5H1263.1L1265 669.4V671.2M1256.8 672.7V669.2L1258.7 667.3H1262.7L1262.9 667.5V667.5M1252.7 672.2V668.9L1254.6 667H1259.6L1259.9 667.3V667.3M1248.6 672.7V668.7L1250.5 666.8H1256L1256.3 667V667M1285.5 673.7V670.3L1287.4 668.4H1287.7L1289.6 670.3V671.2M1281.4 671.2V670.1L1283.3 668.2H1287.4L1287.6 668.4V668.4M1277.3 672.7V669.9L1279.2 668H1284.3L1284.5 668.2V668.2M1273.2 671.2V669.7L1275.1 667.8H1280.7L1280.9 668V668M1269.1 675.3V669.5L1271 667.6H1276.9L1277.1 667.8V667.8M1297.8 675.8V671.4L1299.7 669.5H1300.1L1302 671.4V672.2M1293.7 677.3V671.1L1295.6 669.2H1299.6L1299.9 669.5V669.5M1310.2 685V672.7L1312.1 670.8H1312.4L1314.3 672.7V678.4M1306.1 677.8V672.1L1308 670.2H1311.6L1312.2 670.8V670.8M1296.8 669.2V669.2L1298 668H1307.2L1309.1 669.9V670.2M1273.1 667.6V667.6L1274.2 666.5H1301.5L1303 668V668M1252.4 666.8V666.8L1253.7 665.5H1287L1288 666.5V666.5M1229.3 664.8V664.8L1230.7 663.4H1268.3L1270.2 665.3V665.5M1215.7 669.6V663.3L1217.6 661.4H1247.9L1249.8 663.3V663.4M1211.6 668.6V661.2L1213.5 659.3H1230.8L1232.7 661.2V661.4M1222.2 626.3V659.3"/>
<path stroke="#f68d42" d="M973.3 656.3V650.9L975.2 649H975.5L977.4 650.9V654.8M981.5 655.8V653.1L983.4 651.2H983.8L985.7 653.1V658.4M975.4 649V645.4L977.3 643.5H981.7L983.6 645.4V651.2M969.2 649.1V636.1L971.1 634.2H977.6L979.5 636.1V643.5M974.4 634.2V625.9L976.3 624H987.9L989.8 625.9V645.5M982.1 624V610.4L984 608.5H992L993.9 610.4V640.4M988 549.4V608.5"/>
<path stroke="#d53e4f" d="M1026.7 669.5V666.9L1028.6 665H1028.9L1030.8 666.9V670.5M1028.8 665V664.4L1030.7 662.5H1033L1035 664.4V670M1022.6 668V661.3L1024.5 659.4H1037.2L1039.1 661.3V666.5M1031.9 659.4V662.5M1030.8 606.3V659.4"/>
<path stroke="#9e0142" d="M1071.9 669.6V657.9L1073.8 656H1074.1L1076 657.9V667M1067.8 666.5V655.9L1069.7 654H1072.1L1074 655.9V656M1080.1 676.3V661.9L1082 660H1082.3L1084.2 661.9V669.6M1070.9 654V654L1072.4 652.5H1080.3L1082.2 654.4V660M1088.4 664V656.4L1090.3 654.5H1094.7L1096.6 656.4V665M1092.5 654.5V669M1104.8 675.8V670.4L1106.7 668.5H1107L1108.9 670.4V674.8M1100.7 685V660.4L1102.6 658.5H1104.9L1106.8 660.4V668.5M1121.2 666.3V666.3L1123 664.5H1123.5L1125.3 666.3V666.3M1117.1 665V661.4L1119 659.5H1121.4L1123.3 661.4V664.5M1113 667V659.9L1114.9 658H1118.7L1120.2 659.5V659.5M1129.4 668V661.9L1131.3 660H1131.6L1133.5 661.9V666M1116.6 658V658L1118.1 656.5H1129.6L1131.5 658.4V660M1103.8 658.5V656.9L1105.7 655H1122.5L1124 656.5V656.5M1092.5 654.5V654.5L1094 653H1112L1113.9 654.9V655M1076.5 652.5V652.5L1078 651H1101.3L1103.2 652.9V653M1063.7 665.5V650.4L1065.6 648.5H1088L1089.9 650.4V651M1059.6 660.4V646.9L1061.5 645H1074.9L1076.8 646.9V648.5M1068.2 630.1V645"/>
<path stroke="#dedc82" d="M1158.2 689.1V675.6L1160.1 673.7H1160.4L1162.3 675.6V684M1174.6 692V691.6L1176.5 689.7H1180.9L1182.8 691.6V692M1178.7 689.7V692.5M1199.3 695.5V695.5L1200.8 694H1201.9L1203.4 695.5V695.5M1195.2 695.3V691.9L1197.1 690H1199.4L1201.3 691.9V694M1191 694.8V686.9L1192.9 685H1196.3L1198.2 686.9V690M1186.9 694.8V683.9L1188.8 682H1192.7L1194.6 683.9V685M1178.7 689.7V678.2L1180.6 676.3H1188.9L1190.8 678.2V682M1170.5 689.7V674.6L1172.4 672.7H1182.9L1184.8 674.6V676.3M1166.4 685.5V671.5L1168.3 669.6H1175.7L1177.6 671.5V672.7M1160.2 673.7V662.8L1162.1 660.9H1170.1L1172 662.8V669.6M1166.1 616.4V660.9"/>
<path stroke="#f0628f" d="M1334.8 628.5V668.6"/>
<path stroke="#74b5ae" d="M1375.9 689V682.9L1377.8 681H1378.1L1380 682.9V693.8M1371.8 686.6V679.7L1373.7 677.8H1376.1L1378 679.7V681M1374.9 644.4V677.8"/>
<path stroke="#abfad0" d="M1396.4 683.5V669.9L1398.3 668H1398.6L1400.5 669.9V680.4M1392.3 681V666.9L1394.2 665H1396.6L1398.5 666.9V668M1388.2 674.8V664.3L1390.1 662.4H1393.5L1395.4 664.3V665M1391.8 612.9V662.4"/>
<path stroke="#ee6d7d" d="M1425.2 661.5V648.9L1427.1 647H1427.4L1429.3 648.9V653M1421.1 655.7V646.8L1423 644.9H1431.5L1433.4 646.8V655.7M1427.2 644.9V647M1427.2 608.2V644.9"/>
<path stroke="#b8dfa8" d="M1462.2 649.8V635.9L1464.1 634H1464.4L1466.3 635.9V649M1458.1 650.7V631.9L1460 630H1462.3L1464.2 631.9V634M1453.9 649.8V627.9L1455.8 626H1459.2L1461.1 627.9V630M1449.8 642.4V624.3L1451.7 622.4H1455.6L1457.5 624.3V626M1453.7 608.2V622.4"/>
<path stroke="#f7f5b0" d="M1478.6 640.7V631.9L1480.5 630H1480.8L1482.7 631.9V634M1474.5 636.5V629.9L1476.4 628H1478.7L1480.6 629.9V630M1470.4 637.4V626.8L1472.3 624.9H1475.7L1477.6 626.8V628M1474 601.2V624.9"/>
<path stroke="#66c2a5" d="M1511.5 644.3V644.3L1512.5 643.3H1514.6L1515.6 644.3V644.3M1499.1 651.2V636.9L1501 635H1511.6L1513.5 636.9V643.3M1503.2 635V646.4M1507.3 635V648.4M1495 642.3V633.7L1496.9 631.8H1504.4L1506.3 633.7V635M1490.9 638.3V631.3L1492.8 629.4H1498.8L1500.7 631.3V631.8M1552.5 639.5V636.9L1554.4 635H1554.7L1556.6 636.9V639M1548.4 639.5V636.7L1550.3 634.8H1554.3L1554.6 635V635M1544.3 642.3V636.4L1546.2 634.5H1551.3L1551.5 634.8V634.8M1540.2 636.6V636.2L1542.1 634.3H1547.7L1547.9 634.5V634.5M1536.1 637V635.9L1538 634H1543.8L1544.1 634.3V634.3M1532 637.5V635.7L1533.9 633.8H1539.8L1540.1 634V634M1527.9 638V635.4L1529.8 633.5H1535.8L1536 633.8V633.8M1523.8 638.5V635.2L1525.7 633.3H1531.7L1532 633.5V633.5M1577.2 642.3V638.7L1579.1 636.8H1579.4L1581.3 638.7V641M1573.1 639.5V638.4L1575 636.5H1579L1579.2 636.8V636.8M1569 640.5V638.2L1570.9 636.3H1575.9L1576.2 636.5V636.5M1564.9 640V637.9L1566.8 636H1572.3L1572.6 636.3V636.3M1560.7 640V637.7L1562.6 635.8H1568.5L1568.7 636V636M1626.5 641.5V640.4L1628.4 638.5H1628.7L1630.6 640.4V641.5M1622.4 641V640.3L1624.3 638.4H1628.4L1628.5 638.5V638.5M1618.3 641.5V640.2L1620.2 638.3H1625.3L1625.4 638.4V638.4M1614.1 642V640L1616 638.1H1621.7L1621.9 638.3V638.3M1610 641V639.9L1611.9 638H1617.9L1618 638.1V638.1M1605.9 642V639.8L1607.8 637.9H1613.9L1614 638V638M1601.8 641.5V639.7L1603.7 637.8H1609.9L1610 637.9V637.9M1597.7 641V639.6L1599.6 637.7H1605.8L1605.9 637.8V637.8M1593.6 640.5V639.4L1595.5 637.5H1601.7L1601.8 637.7V637.7M1589.5 642.3V639.3L1591.4 637.4H1597.6L1597.7 637.5V637.5M1585.4 640.5V639.2L1587.3 637.3H1593.5L1593.6 637.4V637.4M1589.5 637.3V637.3L1590.5 636.3H1632.8L1634.7 638.2V641.5M1564.7 635.8V635.8L1566.3 634.2H1610.2L1612.1 636.1V636.3M1527.9 633.3V633.3L1529.4 631.8H1586.5L1588.4 633.7V634.2M1519.7 646.4V631.3L1521.6 629.4H1556.2L1558.1 631.3V631.8M1495.8 629.4V628.9L1497.7 627H1537L1538.9 628.9V629.4M1486.8 640.3V623.6L1488.7 621.7H1515.4L1517.3 623.6V627M1502.1 587.9V621.7"/>
<path stroke="#3288bd" d="M1638.8 640.6V640.6L1639.8 639.6H1641.9L1642.9 640.6V640.6M1651.1 642.8V637.2L1653 635.3H1661.5L1663.4 637.2V647.4M1655.2 635.3V643.6M1659.3 635.3V641.7M1671.7 643.6V642.2L1673.6 640.3H1678L1679.9 642.2V645.5M1675.8 640.3V644.4M1667.6 644.7V637.6L1669.5 635.7H1673.9L1675.8 637.6V640.3M1684 642.5V638L1685.9 636.1H1694.4L1696.3 638V643.6M1688.1 636.1V642.8M1692.2 636.1V643.6M1700.4 648.7V648.4L1702.3 646.5H1702.6L1704.5 648.4V648.7M1708.6 646.6V646.6L1710.2 645H1711.1L1712.7 646.6V646.6M1702.5 646.5V638.5L1704.4 636.6H1708.8L1710.7 638.5V645M1721 648.2V648.2L1722.7 646.5H1727.5L1729.2 648.2V648.2M1725.1 646.5V648.2M1716.8 645.8V638.9L1718.7 637H1723.2L1725.1 638.9V646.5M1733.3 654.7V650.1L1735.2 648.2H1735.5L1737.4 650.1V653M1741.5 644.6V644.6L1742.6 643.5H1744.5L1745.6 644.6V644.6M1735.3 648.2V639.3L1737.2 637.4H1741.6L1743.5 639.3V643.5M1753.8 647.1V647.1L1755.4 645.5H1756.3L1757.9 647.1V647.1M1749.7 644.4V639.7L1751.6 637.8H1760.1L1762 639.7V645.8M1755.9 637.8V645.5M1766.1 644.4V640.1L1768 638.2H1772.5L1774.4 640.1V644.4M1770.2 638.2V645.2M1778.5 646V646L1780 644.5H1785.2L1786.7 646V646M1782.6 644.5V646M1799 645.6V645.6L1799.6 645H1802.5L1803.1 645.6V645.6M1794.9 645.6V645.6L1795.5 645H1801.1L1801.1 645V645M1790.8 645.6V645.6L1791.4 645H1798L1798 645V645M1782.6 644.5V640.6L1784.5 638.7H1792.5L1794.4 640.6V645M1807.2 645V641L1809.1 639.1H1809.4L1811.3 641V644.4M1840.1 646.4V646.4L1840.7 645.8H1843.6L1844.2 646.4V646.4M1836 646.4V646.4L1836.6 645.8H1842.1L1842.1 645.8V645.8M1831.9 646.4V646.4L1832.5 645.8H1839.1L1839.1 645.8V645.8M1827.8 646.4V646.4L1828.4 645.8H1835.5L1835.5 645.8V645.8M1823.6 646.4V646.4L1824.2 645.8H1831.6L1831.6 645.8V645.8M1819.5 646.4V646.4L1820.1 645.8H1827.6L1827.6 645.8V645.8M1815.4 646.4V646.4L1816 645.8H1823.6L1823.6 645.8V645.8M1819.5 645.8V640.3L1821.4 638.4H1846.4L1848.3 640.3V643.3M1809.3 639.1V639.1L1810.4 638H1833.5L1833.9 638.4V638.4M1788.5 638.7V638.7L1789.6 637.6H1821.2L1821.6 638V638M1770.2 638.2V638.2L1771.3 637.1H1804.6L1805 637.6V637.6M1755.9 637.8V637.8L1757 636.7H1787.2L1787.6 637.1V637.1M1739.4 637.4V637.4L1740.5 636.3H1771.3L1771.8 636.7V636.7M1721 637V637L1722.1 635.9H1755.2L1755.6 636.3V636.3M1706.6 636.6V636.6L1707.7 635.5H1737.9L1738.3 635.9V635.9M1690.1 636.1V636.1L1691.2 635H1722L1722.4 635.5V635.5M1671.7 635.7V635.7L1672.8 634.6H1705.9L1706.3 635V635M1657.3 635.3V635.3L1658.4 634.2H1688.6L1689 634.6V634.6M1647 640.4V634.7L1648.9 632.8H1671.7L1673.1 634.2V634.2M1640.9 639.6V626.1L1642.8 624.2H1658.2L1660.1 626.1V632.8M1650.5 597.2V624.2"/>
<path stroke="#5e4fa2" d="M1864.7 655V631.9L1866.6 630H1866.9L1868.8 631.9V652.5M1872.9 658.5V631.4L1874.8 629.5H1875.1L1877 631.4V648.7M1866.8 630V629.9L1868.7 628H1873.5L1875 629.5V629.5M1860.6 642V628.4L1862.5 626.5H1869.4L1870.9 628V628M1881.2 634.9V630.4L1883.1 628.5H1883.4L1885.3 630.4V639M1889.4 638.5V630.4L1891.3 628.5H1891.6L1893.5 630.4V643M1883.2 628.5V628.5L1884.7 627H1889.9L1891.4 628.5V628.5M1897.6 646V630.4L1899.5 628.5H1899.8L1901.7 630.4V647M1909.9 640V631.9L1911.8 630H1912.1L1914 631.9V644M1905.8 647V630.4L1907.7 628.5H1910.5L1912 630V630M1899.6 628.5V628.5L1901.1 627H1907.4L1908.9 628.5V628.5M1887.3 627V627L1888.8 625.5H1902.8L1904.3 627V627M1918.1 645V630.8L1920 628.9H1920.3L1922.2 630.8V641M1926.3 644.5V632.2L1928.2 630.3H1928.6L1930.5 632.2V640.5M1934.6 641.5V633.6L1936.5 631.7H1936.8L1938.7 633.6V639M1936.6 631.7V631.7L1938 630.3H1940.9L1942.8 632.2V640M1928.4 630.3V630.3L1929.8 628.9H1938.3L1939.7 630.3V630.3M1920.2 628.9V628.9L1921.6 627.5H1932.6L1934 628.9V628.9M1946.9 642.5V631.1L1948.8 629.2H1949.1L1951 631.1V641M1955.1 646.5V632.5L1957 630.6H1957.3L1959.2 632.5V641M1963.3 638.5V632.5L1965.2 630.6H1965.5L1967.4 632.5V639.5M1957.2 630.6V630.6L1958.6 629.2H1964L1965.4 630.6V630.6M1948.9 629.2V629.2L1950.3 627.8H1959.9L1961.3 629.2V629.2M1927.1 627.5V627.5L1928.3 626.3H1953.6L1955.1 627.8V627.8M1971.5 639.5V632.7L1973.4 630.8H1973.7L1975.6 632.7V644M1979.7 650.5V632.7L1981.6 630.8H1982L1983.9 632.7V647M1973.6 630.8V630.8L1975 629.4H1980.4L1981.8 630.8V630.8M1988 644.5V632.7L1989.9 630.8H1990.2L1992.1 632.7V646M1990 630.8V630.8L1991.4 629.4H1994.3L1996.2 631.3V640M1977.7 629.4V629.4L1979.1 628H1991.7L1993.1 629.4V629.4M2000.3 639V633.2L2002.2 631.3H2002.5L2004.4 633.2V646M2002.3 631.3V631.3L2003.7 629.9H2006.6L2008.5 631.8V646.5M2012.6 645.5V633.2L2014.5 631.3H2014.8L2016.7 633.2V643M2020.8 640.5V633.2L2022.7 631.3H2023L2024.9 633.2V640M2014.7 631.3V631.3L2016.1 629.9H2021.5L2022.9 631.3V631.3M2005.4 629.9V629.9L2006.8 628.5H2017.4L2018.8 629.9V629.9M1985.4 628V628L1986.9 626.5H2010.2L2012.1 628.4V628.5M1941.1 626.3V626.3L1942.4 625H1997.2L1998.7 626.5V626.5M1895.8 625.5V625.4L1897.7 623.5H1968.4L1969.9 625V625M1865.8 626.5V623.9L1867.7 622H1931.4L1932.9 623.5V623.5M2029 635.4V624.9L2030.9 623H2031.2L2033.1 624.9V636.4M1899.3 622V620.8L1901.2 618.9H2029.2L2031.1 620.8V623M1856.5 634.3V617.2L1858.4 615.3H1963.3L1965.2 617.2V618.9M1910.9 608.4V615.3"/>
</g>
<g font-family="Liberation Sans, sans-serif" font-size="4.15" fill="#6a2f72" stroke="#6a2f72" stroke-width="0.08" opacity="0.99">
<text transform="translate(7.2 724.9) rotate(90)" textLength="16.6">outgroup</text>
<text transform="translate(11.3 724.9) rotate(90)" textLength="16.6">outgroup</text>
<text transform="translate(15.4 724.9) rotate(90)" textLength="16.6">outgroup</text>
<text transform="translate(19.6 724.9) rotate(90)" textLength="16.6">outgroup</text>
<text transform="translate(23.7 724.9) rotate(90)" textLength="16.6">outgroup</text>
<text transform="translate(27.8 724.9) rotate(90)" textLength="16.6">outgroup</text>
<text transform="translate(31.9 724.9) rotate(90)" textLength="16.6">outgroup</text>
<text transform="translate(36 724.9) rotate(90)" textLength="16.6">outgroup</text>
<text transform="translate(40.1 724.9) rotate(90)" textLength="16.6">outgroup</text>
<text transform="translate(44.2 724.9) rotate(90)" textLength="16.6">outgroup</text>
<text transform="translate(60.6 724.9) rotate(90)" textLength="37.8">Elongatibacterensisb</text>
<text transform="translate(64.7 724.9) rotate(90)" textLength="37.8">Elongatibacterensisb</text>
<text transform="translate(68.8 724.9) rotate(90)" textLength="59.5">Elongatibacter_longiformisensis</text>
<text transform="translate(73 724.9) rotate(90)" textLength="37.8">Elongatibacterensisb</text>
<text transform="translate(93.5 724.9) rotate(90)" textLength="47.4">Pontibacterium oceanicue</text>
<text transform="translate(220.8 724.9) rotate(90)" textLength="54">Campylobacter_nigricolaensi</text>
<text transform="translate(315.3 724.9) rotate(90)" textLength="33.7">Aeropelagibactere</text>
<text transform="translate(348.2 724.9) rotate(90)" textLength="31.7">Mesopelagibacte</text>
<text transform="translate(352.3 724.9) rotate(90)" textLength="31.7">Mesopelagibacte</text>
<text transform="translate(356.4 724.9) rotate(90)" textLength="31.7">Mesopelagibacte</text>
<text transform="translate(360.5 724.9) rotate(90)" textLength="49.3">Mesopelagibacte_pacificue</text>
<text transform="translate(364.6 724.9) rotate(90)" textLength="31.7">Mesopelagibacte</text>
<text transform="translate(368.7 724.9) rotate(90)" textLength="30.7">Mucilaginibacter</text>
<text transform="translate(372.8 724.9) rotate(90)" textLength="30.7">Mucilaginibacter</text>
<text transform="translate(376.9 724.9) rotate(90)" textLength="30.7">Mucilaginibacter</text>
<text transform="translate(381 724.9) rotate(90)" textLength="30.7">Mucilaginibacter</text>
<text transform="translate(385.1 724.9) rotate(90)" textLength="30.7">Mucilaginibacter</text>
<text transform="translate(389.3 724.9) rotate(90)" textLength="57">Mucilaginibacter_lacunaderose</text>
<text transform="translate(393.4 724.9) rotate(90)" textLength="30.7">Mucilaginibacter</text>
<text transform="translate(397.5 724.9) rotate(90)" textLength="30.7">Mucilaginibacter</text>
<text transform="translate(401.6 724.9) rotate(90)" textLength="30.7">Mucilaginibacter</text>
<text transform="translate(405.7 724.9) rotate(90)" textLength="34.7">Edaphobaculum se</text>
<text transform="translate(409.8 724.9) rotate(90)" textLength="34.7">Edaphobaculum se</text>
<text transform="translate(413.9 724.9) rotate(90)" textLength="49">Edaphobaculum se_arvuse</text>
<text transform="translate(418 724.9) rotate(90)" textLength="31.7">Anaerophagabac</text>
<text transform="translate(422.1 724.9) rotate(90)" textLength="31.7">Anaerophagabac</text>
<text transform="translate(426.2 724.9) rotate(90)" textLength="31.7">Anaerophagabac</text>
<text transform="translate(430.3 724.9) rotate(90)" textLength="49">Anaerophagabac_globalise</text>
<text transform="translate(434.4 724.9) rotate(90)" textLength="31.7">Anaerophagabac</text>
<text transform="translate(438.5 724.9) rotate(90)" textLength="31.7">Anaerophagabac</text>
<text transform="translate(442.7 724.9) rotate(90)">NA</text>
<text transform="translate(446.8 724.9) rotate(90)">NA</text>
<text transform="translate(450.9 724.9) rotate(90)">NA</text>
<text transform="translate(455 724.9) rotate(90)" textLength="30.2">Puteibacter spen</text>
<text transform="translate(459.1 724.9) rotate(90)" textLength="30.2">Puteibacter spen</text>
<text transform="translate(463.2 724.9) rotate(90)" textLength="30.2">Puteibacter spen</text>
<text transform="translate(467.3 724.9) rotate(90)" textLength="30.2">Puteibacter spen</text>
<text transform="translate(471.4 724.9) rotate(90)" textLength="51">Puteibacter spen_tranquillue</text>
<text transform="translate(475.5 724.9) rotate(90)">NA</text>
<text transform="translate(479.6 724.9) rotate(90)">NA</text>
<text transform="translate(483.7 724.9) rotate(90)">NA</text>
<text transform="translate(487.8 724.9) rotate(90)">NA</text>
<text transform="translate(492 724.9) rotate(90)">NA</text>
<text transform="translate(496.1 724.9) rotate(90)">NA</text>
<text transform="translate(500.2 724.9) rotate(90)">NA</text>
<text transform="translate(504.3 724.9) rotate(90)">NA</text>
<text transform="translate(508.4 724.9) rotate(90)">NA</text>
<text transform="translate(512.5 724.9) rotate(90)">NA</text>
<text transform="translate(516.6 724.9) rotate(90)">NA</text>
<text transform="translate(520.7 724.9) rotate(90)">NA</text>
<text transform="translate(524.8 724.9) rotate(90)">NA</text>
<text transform="translate(528.9 724.9) rotate(90)">NA</text>
<text transform="translate(533 724.9) rotate(90)">NA</text>
<text transform="translate(537.1 724.9) rotate(90)" textLength="30.7">Parapedobactere</text>
<text transform="translate(541.2 724.9) rotate(90)" textLength="49">Parapedobactere_algicolae</text>
<text transform="translate(545.4 724.9) rotate(90)" textLength="30.7">Parapedobactere</text>
<text transform="translate(549.5 724.9) rotate(90)" textLength="30.7">Parapedobactere</text>
<text transform="translate(553.6 724.9) rotate(90)" textLength="30.7">Parapedobactere</text>
<text transform="translate(557.7 724.9) rotate(90)" textLength="30.7">Parapedobactere</text>
<text transform="translate(561.8 724.9) rotate(90)" textLength="30.7">Parapedobactere</text>
<text transform="translate(565.9 724.9) rotate(90)" textLength="30.7">Parapedobactere</text>
<text transform="translate(570 724.9) rotate(90)" textLength="30.7">Parapedobactere</text>
<text transform="translate(574.1 724.9) rotate(90)" textLength="30.7">Pseudopedobact</text>
<text transform="translate(578.2 724.9) rotate(90)" textLength="30.7">Pseudopedobact</text>
<text transform="translate(582.3 724.9) rotate(90)" textLength="30.7">Pseudopedobact</text>
<text transform="translate(586.4 724.9) rotate(90)" textLength="30.7">Pseudopedobact</text>
<text transform="translate(590.5 724.9) rotate(90)" textLength="30.7">Pseudopedobact</text>
<text transform="translate(594.6 724.9) rotate(90)" textLength="30.7">Pseudopedobact</text>
<text transform="translate(598.8 724.9) rotate(90)" textLength="30.7">Pseudopedobact</text>
<text transform="translate(602.9 724.9) rotate(90)" textLength="30.7">Pseudopedobact</text>
<text transform="translate(607 724.9) rotate(90)" textLength="30.7">Pseudopedobact</text>
<text transform="translate(611.1 724.9) rotate(90)" textLength="30.7">Pseudopedobact</text>
<text transform="translate(615.2 724.9) rotate(90)" textLength="49">Pseudopedobact_elegantie</text>
<text transform="translate(619.3 724.9) rotate(90)" textLength="30.7">Pseudopedobact</text>
<text transform="translate(623.4 724.9) rotate(90)" textLength="30.7">Pseudopedobact</text>
<text transform="translate(627.5 724.9) rotate(90)" textLength="30.7">Pseudopedobact</text>
<text transform="translate(631.6 724.9) rotate(90)" textLength="30.7">Pseudopedobact</text>
<text transform="translate(635.7 724.9) rotate(90)" textLength="30.7">Pseudopedobact</text>
<text transform="translate(639.8 724.9) rotate(90)" textLength="30.7">Pseudopedobact</text>
<text transform="translate(643.9 724.9) rotate(90)" textLength="30.7">Pseudopedobact</text>
<text transform="translate(648 724.9) rotate(90)" textLength="33.7">Sphingobacterium</text>
<text transform="translate(652.2 724.9) rotate(90)" textLength="33.7">Sphingobacterium</text>
<text transform="translate(656.3 724.9) rotate(90)" textLength="33.7">Sphingobacterium</text>
<text transform="translate(660.4 724.9) rotate(90)" textLength="33.7">Sphingobacterium</text>
<text transform="translate(664.5 724.9) rotate(90)" textLength="33.7">Sphingobacterium</text>
<text transform="translate(668.6 724.9) rotate(90)" textLength="33.7">Sphingobacterium</text>
<text transform="translate(672.7 724.9) rotate(90)" textLength="33.7">Sphingobacterium</text>
<text transform="translate(676.8 724.9) rotate(90)" textLength="57.8">Sphingobacterium_mucosissim</text>
<text transform="translate(680.9 724.9) rotate(90)" textLength="29.8">Olivibacter spen</text>
<text transform="translate(685 724.9) rotate(90)" textLength="29.8">Olivibacter spen</text>
<text transform="translate(689.1 724.9) rotate(90)" textLength="29.8">Olivibacter spen</text>
<text transform="translate(693.2 724.9) rotate(90)" textLength="29.8">Olivibacter spen</text>
<text transform="translate(697.3 724.9) rotate(90)" textLength="29.8">Olivibacter spen</text>
<text transform="translate(701.4 724.9) rotate(90)" textLength="29.8">Olivibacter spen</text>
<text transform="translate(705.6 724.9) rotate(90)" textLength="29.8">Olivibacter spen</text>
<text transform="translate(709.7 724.9) rotate(90)" textLength="29.8">Olivibacter spen</text>
<text transform="translate(713.8 724.9) rotate(90)" textLength="29.8">Olivibacter spen</text>
<text transform="translate(717.9 724.9) rotate(90)" textLength="29.8">Olivibacter spen</text>
<text transform="translate(722 724.9) rotate(90)" textLength="29.8">Olivibacter spen</text>
<text transform="translate(726.1 724.9) rotate(90)" textLength="29.8">Olivibacter spen</text>
<text transform="translate(730.2 724.9) rotate(90)" textLength="29.8">Olivibacter spen</text>
<text transform="translate(734.3 724.9) rotate(90)" textLength="29.8">Olivibacter spen</text>
<text transform="translate(738.4 724.9) rotate(90)" textLength="29.8">Olivibacter spen</text>
<text transform="translate(742.5 724.9) rotate(90)" textLength="29.8">Olivibacter spen</text>
<text transform="translate(746.6 724.9) rotate(90)" textLength="29.8">Olivibacter spen</text>
<text transform="translate(750.7 724.9) rotate(90)" textLength="29.8">Olivibacter spen</text>
<text transform="translate(754.8 724.9) rotate(90)" textLength="29.8">Olivibacter spen</text>
<text transform="translate(759 724.9) rotate(90)" textLength="29.8">Olivibacter spen</text>
<text transform="translate(763.1 724.9) rotate(90)" textLength="29.8">Olivibacter spen</text>
<text transform="translate(767.2 724.9) rotate(90)" textLength="29.8">Olivibacter spen</text>
<text transform="translate(771.3 724.9) rotate(90)" textLength="29.8">Olivibacter spen</text>
<text transform="translate(775.4 724.9) rotate(90)" textLength="52.9">Olivibacter spen_splendiduse</text>
<text transform="translate(779.5 724.9) rotate(90)" textLength="29.8">Olivibacter spen</text>
<text transform="translate(783.6 724.9) rotate(90)" textLength="29.8">Olivibacter spen</text>
<text transform="translate(787.7 724.9) rotate(90)" textLength="29.8">Olivibacter spen</text>
<text transform="translate(791.8 724.9) rotate(90)" textLength="29.8">Olivibacter spen</text>
<text transform="translate(795.9 724.9) rotate(90)" textLength="29.8">Olivibacter spen</text>
<text transform="translate(800 724.9) rotate(90)" textLength="29.8">Olivibacter spen</text>
<text transform="translate(804.1 724.9) rotate(90)" textLength="29.8">Olivibacter spen</text>
<text transform="translate(808.3 724.9) rotate(90)" textLength="29.8">Olivibacter spen</text>
<text transform="translate(812.4 724.9) rotate(90)" textLength="29.8">Olivibacter spen</text>
<text transform="translate(816.5 724.9) rotate(90)" textLength="29.8">Olivibacter spen</text>
<text transform="translate(820.6 724.9) rotate(90)" textLength="29.8">Olivibacter spen</text>
<text transform="translate(824.7 724.9) rotate(90)" textLength="29.8">Olivibacter spen</text>
<text transform="translate(828.8 724.9) rotate(90)" textLength="29.8">Olivibacter spen</text>
<text transform="translate(832.9 724.9) rotate(90)" textLength="29.8">Olivibacter spen</text>
<text transform="translate(837 724.9) rotate(90)" textLength="29.8">Olivibacter spen</text>
<text transform="translate(841.1 724.9) rotate(90)" textLength="29.8">Olivibacter spen</text>
<text transform="translate(845.2 724.9) rotate(90)" textLength="29.8">Olivibacter spen</text>
<text transform="translate(849.3 724.9) rotate(90)" textLength="31.7">Pedobacter solie</text>
<text transform="translate(853.4 724.9) rotate(90)" textLength="31.7">Pedobacter solie</text>
<text transform="translate(857.5 724.9) rotate(90)" textLength="51.7">Pedobacter solie_salicilacue</text>
<text transform="translate(861.7 724.9) rotate(90)" textLength="31.7">Pedobacter solie</text>
<text transform="translate(865.8 724.9) rotate(90)" textLength="31.7">Pedobacter solie</text>
<text transform="translate(869.9 724.9) rotate(90)" textLength="31.7">Pedobacter solie</text>
<text transform="translate(874 724.9) rotate(90)" textLength="31.7">Pedobacter solie</text>
<text transform="translate(878.1 724.9) rotate(90)">NA</text>
<text transform="translate(882.2 724.9) rotate(90)">NA</text>
<text transform="translate(886.3 724.9) rotate(90)">NA</text>
<text transform="translate(890.4 724.9) rotate(90)">NA</text>
<text transform="translate(894.5 724.9) rotate(90)">NA</text>
<text transform="translate(898.6 724.9) rotate(90)">NA</text>
<text transform="translate(902.7 724.9) rotate(90)">NA</text>
<text transform="translate(906.8 724.9) rotate(90)">NA</text>
<text transform="translate(910.9 724.9) rotate(90)">NA</text>
<text transform="translate(915.1 724.9) rotate(90)">NA</text>
<text transform="translate(919.2 724.9) rotate(90)">NA</text>
<text transform="translate(923.3 724.9) rotate(90)">NA</text>
<text transform="translate(927.4 724.9) rotate(90)">NA</text>
<text transform="translate(931.5 724.9) rotate(90)">NA</text>
<text transform="translate(935.6 724.9) rotate(90)">NA</text>
<text transform="translate(939.7 724.9) rotate(90)" textLength="51">Pelagibacte_subantarcticus</text>
<text transform="translate(943.8 724.9) rotate(90)" textLength="45.4">Pelagibacte_giovannonii</text>
<text transform="translate(947.9 724.9) rotate(90)" textLength="21.9">Pelagibacte</text>
<text transform="translate(952 724.9) rotate(90)" textLength="21.9">Pelagibacte</text>
<text transform="translate(956.1 724.9) rotate(90)" textLength="21.9">Pelagibacte</text>
<text transform="translate(960.2 724.9) rotate(90)" textLength="51.7">Pelagibacte_ubiquemarinus</text>
<text transform="translate(964.3 724.9) rotate(90)" textLength="21.9">Pelagibacte</text>
<text transform="translate(968.5 724.9) rotate(90)" textLength="32.7">Candidatus Fonsi</text>
<text transform="translate(972.6 724.9) rotate(90)" textLength="54.6">Candidatus Fonsi_lacustrisen</text>
<text transform="translate(976.7 724.9) rotate(90)" textLength="32.7">Candidatus Fonsi</text>
<text transform="translate(980.8 724.9) rotate(90)" textLength="32.7">Candidatus Fonsi</text>
<text transform="translate(984.9 724.9) rotate(90)" textLength="32.7">Candidatus Fonsi</text>
<text transform="translate(989 724.9) rotate(90)" textLength="32.7">Candidatus Fonsi</text>
<text transform="translate(993.1 724.9) rotate(90)" textLength="47.4">Candidatus Fonsi_baikale</text>
<text transform="translate(997.2 724.9) rotate(90)">NA</text>
<text transform="translate(1001.3 724.9) rotate(90)">NA</text>
<text transform="translate(1005.4 724.9) rotate(90)">NA</text>
<text transform="translate(1009.5 724.9) rotate(90)">NA</text>
<text transform="translate(1013.6 724.9) rotate(90)">NA</text>
<text transform="translate(1017.7 724.9) rotate(90)">NA</text>
<text transform="translate(1021.9 724.9) rotate(90)" textLength="57.8">Limnohabitans spe_baikalensise</text>
<text transform="translate(1026 724.9) rotate(90)" textLength="33.7">Limnohabitans spe</text>
<text transform="translate(1030.1 724.9) rotate(90)" textLength="33.7">Limnohabitans spe</text>
<text transform="translate(1034.2 724.9) rotate(90)" textLength="33.7">Limnohabitans spe</text>
<text transform="translate(1038.3 724.9) rotate(90)" textLength="33.7">Limnohabitans spe</text>
<text transform="translate(1042.4 724.9) rotate(90)">NA</text>
<text transform="translate(1046.5 724.9) rotate(90)">NA</text>
<text transform="translate(1050.6 724.9) rotate(90)">NA</text>
<text transform="translate(1054.7 724.9) rotate(90)">NA</text>
<text transform="translate(1058.8 724.9) rotate(90)" textLength="32.7">Hymenobacter sp</text>
<text transform="translate(1062.9 724.9) rotate(90)" textLength="32.7">Hymenobacter sp</text>
<text transform="translate(1067 724.9) rotate(90)" textLength="32.7">Hymenobacter sp</text>
<text transform="translate(1071.2 724.9) rotate(90)" textLength="32.7">Hymenobacter sp</text>
<text transform="translate(1075.3 724.9) rotate(90)" textLength="32.7">Hymenobacter sp</text>
<text transform="translate(1079.4 724.9) rotate(90)" textLength="32.7">Hymenobacter sp</text>
<text transform="translate(1083.5 724.9) rotate(90)" textLength="32.7">Hymenobacter sp</text>
<text transform="translate(1087.6 724.9) rotate(90)" textLength="32.7">Hymenobacter sp</text>
<text transform="translate(1091.7 724.9) rotate(90)" textLength="32.7">Hymenobacter sp</text>
<text transform="translate(1095.8 724.9) rotate(90)" textLength="32.7">Hymenobacter sp</text>
<text transform="translate(1099.9 724.9) rotate(90)" textLength="32.7">Hymenobacter sp</text>
<text transform="translate(1104 724.9) rotate(90)" textLength="32.7">Hymenobacter sp</text>
<text transform="translate(1108.1 724.9) rotate(90)" textLength="32.7">Hymenobacter sp</text>
<text transform="translate(1112.2 724.9) rotate(90)" textLength="32.7">Hymenobacter sp</text>
<text transform="translate(1116.3 724.9) rotate(90)" textLength="53.7">Hymenobacter sp_marinusen</text>
<text transform="translate(1120.4 724.9) rotate(90)" textLength="32.7">Hymenobacter sp</text>
<text transform="translate(1124.6 724.9) rotate(90)" textLength="32.7">Hymenobacter sp</text>
<text transform="translate(1128.7 724.9) rotate(90)" textLength="32.7">Hymenobacter sp</text>
<text transform="translate(1132.8 724.9) rotate(90)" textLength="32.7">Hymenobacter sp</text>
<text transform="translate(1136.9 724.9) rotate(90)">NA</text>
<text transform="translate(1141 724.9) rotate(90)">NA</text>
<text transform="translate(1145.1 724.9) rotate(90)">NA</text>
<text transform="translate(1149.2 724.9) rotate(90)">NA</text>
<text transform="translate(1153.3 724.9) rotate(90)">NA</text>
<text transform="translate(1157.4 724.9) rotate(90)" textLength="36.6">Pontibacter korlensi</text>
<text transform="translate(1161.5 724.9) rotate(90)" textLength="36.6">Pontibacter korlensi</text>
<text transform="translate(1165.6 724.9) rotate(90)" textLength="36.6">Pontibacter korlensi</text>
<text transform="translate(1169.7 724.9) rotate(90)" textLength="57.8">Pontibacter korlensi_indicusens</text>
<text transform="translate(1173.8 724.9) rotate(90)" textLength="36.6">Pontibacter korlensi</text>
<text transform="translate(1178 724.9) rotate(90)" textLength="36.6">Pontibacter korlensi</text>
<text transform="translate(1182.1 724.9) rotate(90)" textLength="36.6">Pontibacter korlensi</text>
<text transform="translate(1186.2 724.9) rotate(90)" textLength="36.6">Pontibacter korlensi</text>
<text transform="translate(1190.3 724.9) rotate(90)" textLength="36.6">Pontibacter korlensi</text>
<text transform="translate(1194.4 724.9) rotate(90)" textLength="36.6">Pontibacter korlensi</text>
<text transform="translate(1198.5 724.9) rotate(90)" textLength="36.6">Pontibacter korlensi</text>
<text transform="translate(1202.6 724.9) rotate(90)" textLength="36.6">Pontibacter korlensi</text>
<text transform="translate(1206.7 724.9) rotate(90)">NA</text>
<text transform="translate(1210.8 724.9) rotate(90)" textLength="33.7">Flavobacterium sp</text>
<text transform="translate(1214.9 724.9) rotate(90)" textLength="33.7">Flavobacterium sp</text>
<text transform="translate(1219 724.9) rotate(90)" textLength="33.7">Flavobacterium sp</text>
<text transform="translate(1223.1 724.9) rotate(90)" textLength="33.7">Flavobacterium sp</text>
<text transform="translate(1227.2 724.9) rotate(90)" textLength="33.7">Flavobacterium sp</text>
<text transform="translate(1231.4 724.9) rotate(90)" textLength="33.7">Flavobacterium sp</text>
<text transform="translate(1235.5 724.9) rotate(90)" textLength="33.7">Flavobacterium sp</text>
<text transform="translate(1239.6 724.9) rotate(90)" textLength="33.7">Flavobacterium sp</text>
<text transform="translate(1243.7 724.9) rotate(90)" textLength="33.7">Flavobacterium sp</text>
<text transform="translate(1247.8 724.9) rotate(90)" textLength="33.7">Flavobacterium sp</text>
<text transform="translate(1251.9 724.9) rotate(90)" textLength="33.7">Flavobacterium sp</text>
<text transform="translate(1256 724.9) rotate(90)" textLength="33.7">Flavobacterium sp</text>
<text transform="translate(1260.1 724.9) rotate(90)" textLength="33.7">Flavobacterium sp</text>
<text transform="translate(1264.2 724.9) rotate(90)" textLength="56.8">Flavobacterium sp_borealisens</text>
<text transform="translate(1268.3 724.9) rotate(90)" textLength="33.7">Flavobacterium sp</text>
<text transform="translate(1272.4 724.9) rotate(90)" textLength="33.7">Flavobacterium sp</text>
<text transform="translate(1276.5 724.9) rotate(90)" textLength="33.7">Flavobacterium sp</text>
<text transform="translate(1280.6 724.9) rotate(90)" textLength="33.7">Flavobacterium sp</text>
<text transform="translate(1284.8 724.9) rotate(90)" textLength="33.7">Flavobacterium sp</text>
<text transform="translate(1288.9 724.9) rotate(90)" textLength="33.7">Flavobacterium sp</text>
<text transform="translate(1293 724.9) rotate(90)" textLength="33.7">Flavobacterium sp</text>
<text transform="translate(1297.1 724.9) rotate(90)" textLength="33.7">Flavobacterium sp</text>
<text transform="translate(1301.2 724.9) rotate(90)" textLength="33.7">Flavobacterium sp</text>
<text transform="translate(1305.3 724.9) rotate(90)" textLength="33.7">Flavobacterium sp</text>
<text transform="translate(1309.4 724.9) rotate(90)" textLength="33.7">Flavobacterium sp</text>
<text transform="translate(1313.5 724.9) rotate(90)" textLength="33.7">Flavobacterium sp</text>
<text transform="translate(1317.6 724.9) rotate(90)">NA</text>
<text transform="translate(1321.7 724.9) rotate(90)">NA</text>
<text transform="translate(1325.8 724.9) rotate(90)">NA</text>
<text transform="translate(1329.9 724.9) rotate(90)">NA</text>
<text transform="translate(1334 724.9) rotate(90)" textLength="47">Algoriphagus marincolae</text>
<text transform="translate(1338.2 724.9) rotate(90)">NA</text>
<text transform="translate(1342.3 724.9) rotate(90)">NA</text>
<text transform="translate(1346.4 724.9) rotate(90)">NA</text>
<text transform="translate(1350.5 724.9) rotate(90)">NA</text>
<text transform="translate(1354.6 724.9) rotate(90)">NA</text>
<text transform="translate(1358.7 724.9) rotate(90)">NA</text>
<text transform="translate(1362.8 724.9) rotate(90)">NA</text>
<text transform="translate(1366.9 724.9) rotate(90)">NA</text>
<text transform="translate(1371 724.9) rotate(90)" textLength="51.7">Pseudarcicella sp_variabilis</text>
<text transform="translate(1375.1 724.9) rotate(90)" textLength="32.7">Pseudarcicella sp</text>
<text transform="translate(1379.2 724.9) rotate(90)" textLength="32.7">Pseudarcicella sp</text>
<text transform="translate(1383.3 724.9) rotate(90)">NA</text>
<text transform="translate(1387.5 724.9) rotate(90)" textLength="36.6">Dyadobacter fermee</text>
<text transform="translate(1391.6 724.9) rotate(90)" textLength="36.6">Dyadobacter fermee</text>
<text transform="translate(1395.7 724.9) rotate(90)" textLength="54.6">Dyadobacter fermee_aestuarii</text>
<text transform="translate(1399.8 724.9) rotate(90)" textLength="36.6">Dyadobacter fermee</text>
<text transform="translate(1403.9 724.9) rotate(90)">NA</text>
<text transform="translate(1408 724.9) rotate(90)">NA</text>
<text transform="translate(1412.1 724.9) rotate(90)">NA</text>
<text transform="translate(1416.2 724.9) rotate(90)">NA</text>
<text transform="translate(1420.3 724.9) rotate(90)" textLength="38.6">Persicobacter difflue</text>
<text transform="translate(1424.4 724.9) rotate(90)" textLength="38.6">Persicobacter difflue</text>
<text transform="translate(1428.5 724.9) rotate(90)" textLength="38.6">Persicobacter difflue</text>
<text transform="translate(1432.6 724.9) rotate(90)" textLength="55.8">Persicobacter difflue_sedimini</text>
<text transform="translate(1436.7 724.9) rotate(90)">NA</text>
<text transform="translate(1440.9 724.9) rotate(90)">NA</text>
<text transform="translate(1445 724.9) rotate(90)">NA</text>
<text transform="translate(1449.1 724.9) rotate(90)" textLength="39.5">Arenibacter latericius</text>
<text transform="translate(1453.2 724.9) rotate(90)" textLength="54.8">Arenibacter latericius_algicole</text>
<text transform="translate(1457.3 724.9) rotate(90)" textLength="39.5">Arenibacter latericius</text>
<text transform="translate(1461.4 724.9) rotate(90)" textLength="39.5">Arenibacter latericius</text>
<text transform="translate(1465.5 724.9) rotate(90)" textLength="39.5">Arenibacter latericius</text>
<text transform="translate(1469.6 724.9) rotate(90)" textLength="37.6">Aquimarina megateri</text>
<text transform="translate(1473.7 724.9) rotate(90)" textLength="70.5">Aquimarina megateri_Megaseimensise</text>
<text transform="translate(1477.8 724.9) rotate(90)" textLength="37.6">Aquimarina megateri</text>
<text transform="translate(1481.9 724.9) rotate(90)" textLength="37.6">Aquimarina megateri</text>
<text transform="translate(1486 724.9) rotate(90)" textLength="35.6">Algibacter lectus str</text>
<text transform="translate(1490.1 724.9) rotate(90)" textLength="35.6">Algibacter lectus str</text>
<text transform="translate(1494.3 724.9) rotate(90)" textLength="35.6">Algibacter lectus str</text>
<text transform="translate(1498.4 724.9) rotate(90)" textLength="35.6">Algibacter lectus str</text>
<text transform="translate(1502.5 724.9) rotate(90)" textLength="35.6">Algibacter lectus str</text>
<text transform="translate(1506.6 724.9) rotate(90)" textLength="35.6">Algibacter lectus str</text>
<text transform="translate(1510.7 724.9) rotate(90)" textLength="35.6">Algibacter lectus str</text>
<text transform="translate(1514.8 724.9) rotate(90)" textLength="35.6">Algibacter lectus str</text>
<text transform="translate(1518.9 724.9) rotate(90)" textLength="35.6">Algibacter lectus str</text>
<text transform="translate(1523 724.9) rotate(90)" textLength="35.6">Algibacter lectus str</text>
<text transform="translate(1527.1 724.9) rotate(90)" textLength="35.6">Algibacter lectus str</text>
<text transform="translate(1531.2 724.9) rotate(90)" textLength="55.6">Algibacter lectus str_atlanticus</text>
<text transform="translate(1535.3 724.9) rotate(90)" textLength="35.6">Algibacter lectus str</text>
<text transform="translate(1539.4 724.9) rotate(90)" textLength="35.6">Algibacter lectus str</text>
<text transform="translate(1543.5 724.9) rotate(90)" textLength="35.6">Algibacter lectus str</text>
<text transform="translate(1547.7 724.9) rotate(90)" textLength="35.6">Algibacter lectus str</text>
<text transform="translate(1551.8 724.9) rotate(90)" textLength="35.6">Algibacter lectus str</text>
<text transform="translate(1555.9 724.9) rotate(90)" textLength="35.6">Algibacter lectus str</text>
<text transform="translate(1560 724.9) rotate(90)" textLength="35.6">Algibacter lectus str</text>
<text transform="translate(1564.1 724.9) rotate(90)" textLength="35.6">Algibacter lectus str</text>
<text transform="translate(1568.2 724.9) rotate(90)" textLength="35.6">Algibacter lectus str</text>
<text transform="translate(1572.3 724.9) rotate(90)" textLength="35.6">Algibacter lectus str</text>
<text transform="translate(1576.4 724.9) rotate(90)" textLength="35.6">Algibacter lectus str</text>
<text transform="translate(1580.5 724.9) rotate(90)" textLength="35.6">Algibacter lectus str</text>
<text transform="translate(1584.6 724.9) rotate(90)" textLength="35.6">Algibacter lectus str</text>
<text transform="translate(1588.7 724.9) rotate(90)" textLength="35.6">Algibacter lectus str</text>
<text transform="translate(1592.8 724.9) rotate(90)" textLength="35.6">Algibacter lectus str</text>
<text transform="translate(1596.9 724.9) rotate(90)" textLength="35.6">Algibacter lectus str</text>
<text transform="translate(1601.1 724.9) rotate(90)" textLength="35.6">Algibacter lectus str</text>
<text transform="translate(1605.2 724.9) rotate(90)" textLength="35.6">Algibacter lectus str</text>
<text transform="translate(1609.3 724.9) rotate(90)" textLength="35.6">Algibacter lectus str</text>
<text transform="translate(1613.4 724.9) rotate(90)" textLength="35.6">Algibacter lectus str</text>
<text transform="translate(1617.5 724.9) rotate(90)" textLength="35.6">Algibacter lectus str</text>
<text transform="translate(1621.6 724.9) rotate(90)" textLength="35.6">Algibacter lectus str</text>
<text transform="translate(1625.7 724.9) rotate(90)" textLength="35.6">Algibacter lectus str</text>
<text transform="translate(1629.8 724.9) rotate(90)" textLength="35.6">Algibacter lectus str</text>
<text transform="translate(1633.9 724.9) rotate(90)" textLength="35.6">Algibacter lectus str</text>
<text transform="translate(1638 724.9) rotate(90)" textLength="33.7">Lutibacter litoralise</text>
<text transform="translate(1642.1 724.9) rotate(90)" textLength="33.7">Lutibacter litoralise</text>
<text transform="translate(1646.2 724.9) rotate(90)" textLength="33.7">Lutibacter litoralise</text>
<text transform="translate(1650.4 724.9) rotate(90)" textLength="33.7">Lutibacter litoralise</text>
<text transform="translate(1654.5 724.9) rotate(90)" textLength="33.7">Lutibacter litoralise</text>
<text transform="translate(1658.6 724.9) rotate(90)" textLength="33.7">Lutibacter litoralise</text>
<text transform="translate(1662.7 724.9) rotate(90)" textLength="33.7">Lutibacter litoralise</text>
<text transform="translate(1666.8 724.9) rotate(90)" textLength="33.7">Lutibacter litoralise</text>
<text transform="translate(1670.9 724.9) rotate(90)" textLength="33.7">Lutibacter litoralise</text>
<text transform="translate(1675 724.9) rotate(90)" textLength="33.7">Lutibacter litoralise</text>
<text transform="translate(1679.1 724.9) rotate(90)" textLength="33.7">Lutibacter litoralise</text>
<text transform="translate(1683.2 724.9) rotate(90)" textLength="33.7">Lutibacter litoralise</text>
<text transform="translate(1687.3 724.9) rotate(90)" textLength="33.7">Lutibacter litoralise</text>
<text transform="translate(1691.4 724.9) rotate(90)" textLength="33.7">Lutibacter litoralise</text>
<text transform="translate(1695.5 724.9) rotate(90)" textLength="33.7">Lutibacter litoralise</text>
<text transform="translate(1699.6 724.9) rotate(90)" textLength="33.7">Lutibacter litoralise</text>
<text transform="translate(1703.8 724.9) rotate(90)" textLength="33.7">Lutibacter litoralise</text>
<text transform="translate(1707.9 724.9) rotate(90)" textLength="33.7">Lutibacter litoralise</text>
<text transform="translate(1712 724.9) rotate(90)" textLength="33.7">Lutibacter litoralise</text>
<text transform="translate(1716.1 724.9) rotate(90)" textLength="33.7">Lutibacter litoralise</text>
<text transform="translate(1720.2 724.9) rotate(90)" textLength="33.7">Lutibacter litoralise</text>
<text transform="translate(1724.3 724.9) rotate(90)" textLength="33.7">Lutibacter litoralise</text>
<text transform="translate(1728.4 724.9) rotate(90)" textLength="33.7">Lutibacter litoralise</text>
<text transform="translate(1732.5 724.9) rotate(90)" textLength="33.7">Lutibacter litoralise</text>
<text transform="translate(1736.6 724.9) rotate(90)" textLength="33.7">Lutibacter litoralise</text>
<text transform="translate(1740.7 724.9) rotate(90)" textLength="33.7">Lutibacter litoralise</text>
<text transform="translate(1744.8 724.9) rotate(90)" textLength="33.7">Lutibacter litoralise</text>
<text transform="translate(1748.9 724.9) rotate(90)" textLength="33.7">Lutibacter litoralise</text>
<text transform="translate(1753 724.9) rotate(90)" textLength="33.7">Lutibacter litoralise</text>
<text transform="translate(1757.2 724.9) rotate(90)" textLength="33.7">Lutibacter litoralise</text>
<text transform="translate(1761.3 724.9) rotate(90)" textLength="33.7">Lutibacter litoralise</text>
<text transform="translate(1765.4 724.9) rotate(90)" textLength="33.7">Lutibacter litoralise</text>
<text transform="translate(1769.5 724.9) rotate(90)" textLength="33.7">Lutibacter litoralise</text>
<text transform="translate(1773.6 724.9) rotate(90)" textLength="33.7">Lutibacter litoralise</text>
<text transform="translate(1777.7 724.9) rotate(90)" textLength="33.7">Lutibacter litoralise</text>
<text transform="translate(1781.8 724.9) rotate(90)" textLength="33.7">Lutibacter litoralise</text>
<text transform="translate(1785.9 724.9) rotate(90)" textLength="33.7">Lutibacter litoralise</text>
<text transform="translate(1790 724.9) rotate(90)" textLength="33.7">Lutibacter litoralise</text>
<text transform="translate(1794.1 724.9) rotate(90)" textLength="33.7">Lutibacter litoralise</text>
<text transform="translate(1798.2 724.9) rotate(90)" textLength="33.7">Lutibacter litoralise</text>
<text transform="translate(1802.3 724.9) rotate(90)" textLength="33.7">Lutibacter litoralise</text>
<text transform="translate(1806.4 724.9) rotate(90)" textLength="33.7">Lutibacter litoralise</text>
<text transform="translate(1810.6 724.9) rotate(90)" textLength="33.7">Lutibacter litoralise</text>
<text transform="translate(1814.7 724.9) rotate(90)" textLength="33.7">Lutibacter litoralise</text>
<text transform="translate(1818.8 724.9) rotate(90)" textLength="51.7">Lutibacter litoralise_balticaen</text>
<text transform="translate(1822.9 724.9) rotate(90)" textLength="33.7">Lutibacter litoralise</text>
<text transform="translate(1827 724.9) rotate(90)" textLength="33.7">Lutibacter litoralise</text>
<text transform="translate(1831.1 724.9) rotate(90)" textLength="33.7">Lutibacter litoralise</text>
<text transform="translate(1835.2 724.9) rotate(90)" textLength="33.7">Lutibacter litoralise</text>
<text transform="translate(1839.3 724.9) rotate(90)" textLength="33.7">Lutibacter litoralise</text>
<text transform="translate(1843.4 724.9) rotate(90)" textLength="33.7">Lutibacter litoralise</text>
<text transform="translate(1847.5 724.9) rotate(90)" textLength="33.7">Lutibacter litoralise</text>
<text transform="translate(1851.6 724.9) rotate(90)">NA</text>
<text transform="translate(1855.7 724.9) rotate(90)" textLength="36.6">Xanthomarina gelati</text>
<text transform="translate(1859.8 724.9) rotate(90)" textLength="36.6">Xanthomarina gelati</text>
<text transform="translate(1864 724.9) rotate(90)" textLength="36.6">Xanthomarina gelati</text>
<text transform="translate(1868.1 724.9) rotate(90)" textLength="36.6">Xanthomarina gelati</text>
<text transform="translate(1872.2 724.9) rotate(90)" textLength="36.6">Xanthomarina gelati</text>
<text transform="translate(1876.3 724.9) rotate(90)" textLength="36.6">Xanthomarina gelati</text>
<text transform="translate(1880.4 724.9) rotate(90)" textLength="36.6">Xanthomarina gelati</text>
<text transform="translate(1884.5 724.9) rotate(90)" textLength="36.6">Xanthomarina gelati</text>
<text transform="translate(1888.6 724.9) rotate(90)" textLength="36.6">Xanthomarina gelati</text>
<text transform="translate(1892.7 724.9) rotate(90)" textLength="36.6">Xanthomarina gelati</text>
<text transform="translate(1896.8 724.9) rotate(90)" textLength="36.6">Xanthomarina gelati</text>
<text transform="translate(1900.9 724.9) rotate(90)" textLength="36.6">Xanthomarina gelati</text>
<text transform="translate(1905 724.9) rotate(90)" textLength="36.6">Xanthomarina gelati</text>
<text transform="translate(1909.1 724.9) rotate(90)" textLength="36.6">Xanthomarina gelati</text>
<text transform="translate(1913.2 724.9) rotate(90)" textLength="36.6">Xanthomarina gelati</text>
<text transform="translate(1917.4 724.9) rotate(90)" textLength="36.6">Xanthomarina gelati</text>
<text transform="translate(1921.5 724.9) rotate(90)" textLength="36.6">Xanthomarina gelati</text>
<text transform="translate(1925.6 724.9) rotate(90)" textLength="36.6">Xanthomarina gelati</text>
<text transform="translate(1929.7 724.9) rotate(90)" textLength="36.6">Xanthomarina gelati</text>
<text transform="translate(1933.8 724.9) rotate(90)" textLength="36.6">Xanthomarina gelati</text>
<text transform="translate(1937.9 724.9) rotate(90)" textLength="36.6">Xanthomarina gelati</text>
<text transform="translate(1942 724.9) rotate(90)" textLength="36.6">Xanthomarina gelati</text>
<text transform="translate(1946.1 724.9) rotate(90)" textLength="36.6">Xanthomarina gelati</text>
<text transform="translate(1950.2 724.9) rotate(90)" textLength="36.6">Xanthomarina gelati</text>
<text transform="translate(1954.3 724.9) rotate(90)" textLength="36.6">Xanthomarina gelati</text>
<text transform="translate(1958.4 724.9) rotate(90)" textLength="36.6">Xanthomarina gelati</text>
<text transform="translate(1962.5 724.9) rotate(90)" textLength="36.6">Xanthomarina gelati</text>
<text transform="translate(1966.7 724.9) rotate(90)" textLength="36.6">Xanthomarina gelati</text>
<text transform="translate(1970.8 724.9) rotate(90)" textLength="36.6">Xanthomarina gelati</text>
<text transform="translate(1974.9 724.9) rotate(90)" textLength="36.6">Xanthomarina gelati</text>
<text transform="translate(1979 724.9) rotate(90)" textLength="36.6">Xanthomarina gelati</text>
<text transform="translate(1983.1 724.9) rotate(90)" textLength="36.6">Xanthomarina gelati</text>
<text transform="translate(1987.2 724.9) rotate(90)" textLength="36.6">Xanthomarina gelati</text>
<text transform="translate(1991.3 724.9) rotate(90)" textLength="36.6">Xanthomarina gelati</text>
<text transform="translate(1995.4 724.9) rotate(90)" textLength="36.6">Xanthomarina gelati</text>
<text transform="translate(1999.5 724.9) rotate(90)" textLength="58.7">Xanthomarina gelati_dokdonene</text>
<text transform="translate(2003.6 724.9) rotate(90)" textLength="36.6">Xanthomarina gelati</text>
<text transform="translate(2007.7 724.9) rotate(90)" textLength="36.6">Xanthomarina gelati</text>
<text transform="translate(2011.8 724.9) rotate(90)" textLength="36.6">Xanthomarina gelati</text>
<text transform="translate(2015.9 724.9) rotate(90)" textLength="36.6">Xanthomarina gelati</text>
<text transform="translate(2020.1 724.9) rotate(90)" textLength="36.6">Xanthomarina gelati</text>
<text transform="translate(2024.2 724.9) rotate(90)" textLength="36.6">Xanthomarina gelati</text>
<text transform="translate(2028.3 724.9) rotate(90)" textLength="36.6">Xanthomarina gelati</text>
<text transform="translate(2032.4 724.9) rotate(90)" textLength="36.6">Xanthomarina gelati</text>
</g>
<path d="M48 726h3M52 726h3M56 726h3M77 726h3M81 726h3M85 726h3M89 726h3M98 726h3M102 726h3M106 726h3M110 726h3M114 726h3M118 726h3M122 726h3M126 726h3M130 726h3M135 726h3M139 726h3M143 726h3M147 726h3M151 726h3M155 726h3M159 726h3M163 726h3M167 726h3M171 726h3M176 726h3M180 726h3M184 726h3M188 726h3M192 726h3M196 726h3M200 726h3M204 726h3M208 726h3M213 726h3M217 726h3M225 726h3M229 726h3M233 726h3M237 726h3M241 726h3M245 726h3M250 726h3M254 726h3M258 726h3M262 726h3M266 726h3M270 726h3M274 726h3M278 726h3M282 726h3M287 726h3M291 726h3M295 726h3M299 726h3M303 726h3M307 726h3M311 726h3M319 726h3M323 726h3M328 726h3M332 726h3M336 726h3M340 726h3M344 726h3" stroke="#966c98" stroke-width="2" fill="none" shape-rendering="crispEdges"/>
<g font-family="Liberation Sans, sans-serif" font-size="20.2" stroke-width="0.15" opacity="0.99">
<text transform="translate(19.8 872.7) rotate(90)" fill="#616063" stroke="#616063">outgroup</text>
<text transform="translate(61.1 872.7) rotate(90)" fill="#ff6361" stroke="#ff6361">IIIa</text>
<text transform="translate(83.5 872.7) rotate(90)" fill="#ff6361" stroke="#ff6361">III</text>
<text transform="translate(87.5 872.7) rotate(90)" fill="#ff6361" stroke="#ff6361">IIIb</text>
<text transform="translate(215 872.7) rotate(90)" fill="#bc4f94" stroke="#bc4f94">II</text>
<text transform="translate(350.6 872.7) rotate(90)" fill="#584f8c" stroke="#584f8c">Ic</text>
<text transform="translate(379.2 872.7) rotate(90)" fill="#a3c49b" stroke="#a3c49b">Ia 4_N8</text>
<text transform="translate(403.8 872.7) rotate(90)" fill="#ddd890" stroke="#ddd890">Ia 4_I</text>
<text transform="translate(422.6 872.7) rotate(90)" fill="#71a985" stroke="#71a985">Ib 4_N9</text>
<text transform="translate(457.3 872.7) rotate(90)" fill="#a9bdc9" stroke="#a9bdc9">Ib N10</text>
<text transform="translate(547.5 872.7) rotate(90)" fill="#33658a" stroke="#33658a">Ib 2_N7</text>
<text transform="translate(603.1 872.7) rotate(90)" fill="#6a8fab" stroke="#6a8fab">Ib 2_I</text>
<text transform="translate(656.6 872.7) rotate(90)" fill="#85bfa9" stroke="#85bfa9">Ib 1</text>
<text transform="translate(757.2 872.7) rotate(90)" fill="#adce8c" stroke="#adce8c">Ib 1_III</text>
<text transform="translate(855.8 872.7) rotate(90)" fill="#c5e0b8" stroke="#c5e0b8">Ib N11</text>
<text transform="translate(946 872.7) rotate(90)" fill="#fdae61" stroke="#fdae61">Ia 1_I</text>
<text transform="translate(975 872.7) rotate(90)" fill="#f68d42" stroke="#f68d42">Ia 3_II</text>
<text transform="translate(1024.1 872.7) rotate(90)" fill="#d53e4f" stroke="#d53e4f">Ia 3_III</text>
<text transform="translate(1089.7 872.7) rotate(90)" fill="#9e0142" stroke="#9e0142">Ia 4_N5</text>
<text transform="translate(1174 872.7) rotate(90)" fill="#dedc82" stroke="#dedc82">Ia 4_N3</text>
<text transform="translate(1256.1 872.7) rotate(90)" fill="#fdae61" stroke="#fdae61">Ia 4_II</text>
<text transform="translate(1327.8 872.7) rotate(90)" fill="#f0628f" stroke="#f0628f">Ia 4_N1</text>
<text transform="translate(1369.1 872.7) rotate(90)" fill="#74b5ae" stroke="#74b5ae">Ia 4_N4</text>
<text transform="translate(1387.5 872.7) rotate(90)" fill="#abfad0" stroke="#abfad0">Ia 4_N6</text>
<text transform="translate(1420.4 872.7) rotate(90)" fill="#ee6d7d" stroke="#ee6d7d">Ia 4_N2</text>
<text transform="translate(1451.2 872.7) rotate(90)" fill="#b8dfa8" stroke="#b8dfa8">Ia 3_IV</text>
<text transform="translate(1469.8 872.7) rotate(90)" fill="#f7f5b0" stroke="#f7f5b0">Ia 3_I</text>
<text transform="translate(1553.8 872.7) rotate(90)" fill="#66c2a5" stroke="#66c2a5">Ia 3_VII</text>
<text transform="translate(1736.8 872.7) rotate(90)" fill="#3288bd" stroke="#3288bd">Ia 3_VI</text>
<text transform="translate(1938 872.7) rotate(90)" fill="#5e4fa2" stroke="#5e4fa2">Ia 3_V</text>
</g>
</svg>
</body></html>
